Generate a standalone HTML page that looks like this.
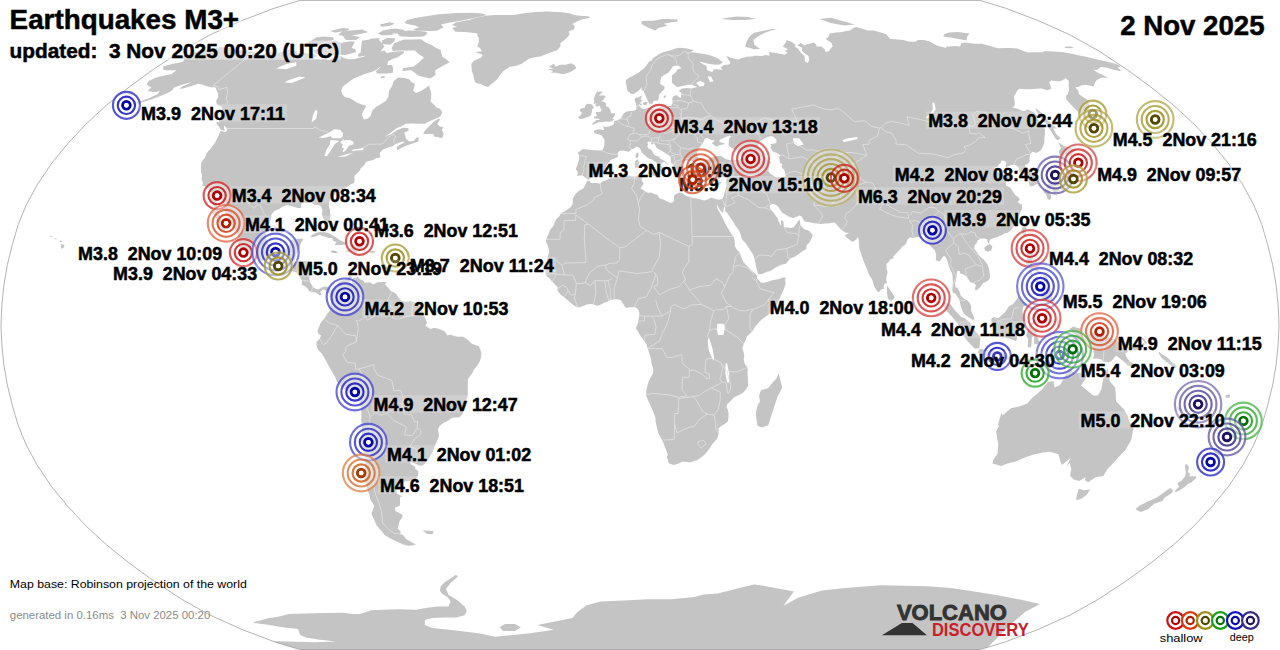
<!DOCTYPE html>
<html><head><meta charset="utf-8"><style>
html,body{margin:0;padding:0;background:#fff;}
body{width:1280px;height:650px;overflow:hidden;}
svg{display:block;}
svg text{font-family:"Liberation Sans",sans-serif;}
</style></head><body>
<svg width="1280" height="650" viewBox="0 0 1280 650">
<defs><clipPath id="rb"><path d="M980.1,0.4 992.9,4.3 1005.6,8.2 1021.3,14.2 1037.0,20.1 1053.6,27.5 1070.2,35.0 1084.7,43.1 1099.2,51.2 1112.3,59.9 1125.4,68.5 1137.9,77.5 1150.3,86.6 1161.9,95.9 1173.6,105.3 1184.1,114.9 1194.6,124.6 1203.6,134.4 1212.7,144.2 1220.8,154.1 1228.9,164.1 1235.6,174.1 1242.4,184.1 1247.9,194.2 1253.4,204.3 1257.6,214.3 1261.7,224.4 1264.7,234.5 1267.6,244.5 1270.1,254.6 1272.6,264.6 1274.3,274.7 1276.1,284.8 1277.1,294.8 1278.1,304.9 1278.6,314.9 1279.0,325.0 1278.6,335.1 1278.1,345.1 1277.1,355.2 1276.1,365.2 1274.3,375.3 1272.6,385.4 1270.1,395.4 1267.6,405.5 1264.7,415.5 1261.7,425.6 1257.6,435.7 1253.4,445.7 1247.9,455.8 1242.4,465.9 1235.6,475.9 1228.9,485.9 1220.8,495.9 1212.7,505.8 1203.6,515.6 1194.6,525.4 1184.1,535.1 1173.6,544.7 1161.9,554.1 1150.3,563.4 1137.9,572.5 1125.4,581.5 1112.3,590.1 1099.2,598.8 1084.7,606.9 1070.2,615.0 1053.6,622.5 1037.0,629.9 1021.3,635.8 1005.6,641.8 992.9,645.7 980.1,649.5 299.9,649.5 287.1,645.7 274.4,641.8 258.7,635.8 243.0,629.9 226.4,622.5 209.8,615.0 195.3,606.9 180.8,598.8 167.7,590.1 154.6,581.5 142.1,572.5 129.7,563.4 118.1,554.1 106.4,544.7 95.9,535.1 85.4,525.4 76.4,515.6 67.3,505.8 59.2,495.9 51.1,485.9 44.4,475.9 37.6,465.9 32.1,455.8 26.6,445.7 22.4,435.7 18.3,425.6 15.3,415.5 12.4,405.5 9.9,395.4 7.4,385.4 5.7,375.3 3.9,365.2 2.9,355.2 1.9,345.1 1.4,335.1 1.0,325.0 1.4,314.9 1.9,304.9 2.9,294.8 3.9,284.8 5.7,274.7 7.4,264.6 9.9,254.6 12.4,244.5 15.3,234.5 18.3,224.4 22.4,214.3 26.6,204.3 32.1,194.2 37.6,184.1 44.4,174.1 51.1,164.1 59.2,154.1 67.3,144.2 76.4,134.4 85.4,124.6 95.9,114.9 106.4,105.3 118.1,95.9 129.7,86.6 142.1,77.5 154.6,68.5 167.7,59.9 180.8,51.2 195.3,43.1 209.8,35.0 226.4,27.5 243.0,20.1 258.7,14.2 274.4,8.2 287.1,4.3 299.9,0.4Z"/></clipPath></defs>
<rect width="1280" height="650" fill="#fff"/>
<g clip-path="url(#rb)">
<path d="M226.2,47.7 230.2,48.3 233.1,49.6 237.7,49.9 241.8,50.6 245.9,51.2 251.0,51.2 254.3,52.6 257.7,54.0 261.6,55.0 270.1,52.3 273.1,53.0 278.2,53.0 284.1,51.2 290.2,49.6 292.3,51.9 296.9,51.2 297.1,53.3 304.3,52.6 308.3,53.7 314.3,54.0 317.3,56.1 312.9,57.8 314.4,58.8 320.6,59.2 326.2,58.8 328.7,60.2 335.8,55.7 340.6,56.1 343.8,58.1 348.1,59.2 353.3,59.2 358.2,58.1 364.4,56.4 369.4,52.6 368.7,50.6 373.7,46.4 377.0,45.4 376.9,48.6 375.4,53.3 378.1,54.7 378.6,57.1 383.3,54.7 388.9,52.6 396.1,51.6 404.0,51.2 403.7,53.3 397.3,57.5 391.5,59.5 385.6,63.0 381.7,65.7 376.0,70.0 371.6,72.1 364.5,73.9 358.7,76.5 353.7,78.6 347.5,83.0 342.9,86.6 341.1,91.1 342.7,94.8 344.9,97.1 349.9,98.2 353.0,100.1 357.2,102.7 361.5,104.2 366.3,106.1 362.5,112.2 362.1,115.7 363.9,119.6 367.4,118.8 370.7,116.1 371.9,111.1 375.9,106.9 381.5,103.8 386.2,100.4 388.6,95.9 388.9,91.1 392.1,85.9 393.6,81.2 398.0,77.5 404.7,77.9 409.3,79.4 411.6,82.2 415.0,83.7 414.2,87.3 413.2,90.7 416.0,93.0 421.0,91.1 425.7,88.1 429.1,85.5 429.8,88.5 431.2,92.6 431.2,97.1 430.5,101.6 433.6,104.2 436.1,107.2 440.0,108.8 442.2,112.2 440.5,116.5 435.3,118.8 430.5,120.7 424.7,123.8 418.5,123.8 411.0,123.4 405.6,123.8 401.1,126.5 396.7,128.1 390.8,132.8 384.6,137.1 386.2,136.3 391.2,134.0 397.5,130.1 403.1,127.7 408.2,128.1 408.8,130.4 404.2,132.8 405.3,135.6 406.0,138.7 409.4,141.4 413.7,141.1 415.9,138.3 418.6,137.1 418.3,141.4 412.8,143.4 406.7,145.4 401.9,147.4 397.4,150.2 396.5,147.4 399.5,145.0 404.5,142.6 403.1,141.4 398.3,143.0 394.9,144.6 392.7,146.2 387.4,147.8 383.0,149.4 379.7,152.9 379.8,155.3 380.7,157.3 378.5,158.1 376.5,158.1 373.2,160.1 369.0,160.9 365.9,162.1 364.1,165.3 361.0,168.1 359.4,170.9 357.0,173.3 354.4,176.1 354.5,178.9 354.3,182.9 351.2,184.1 348.4,185.8 344.3,188.6 341.1,189.4 338.1,191.8 333.8,195.0 330.9,198.2 329.1,202.3 328.9,205.9 330.0,210.3 330.1,213.1 330.6,217.1 329.5,220.8 327.9,223.6 325.5,223.6 324.0,220.8 323.2,218.0 321.9,214.3 322.5,210.3 320.9,206.3 318.2,204.7 314.7,205.1 311.6,202.7 308.1,203.1 304.8,202.7 301.1,203.5 301.1,207.9 297.7,207.9 294.5,207.1 291.0,205.9 287.1,205.1 282.6,206.7 279.3,209.1 274.3,211.1 271.4,214.7 271.2,218.4 270.0,222.0 268.0,226.4 266.9,230.4 265.8,234.9 266.1,237.3 266.8,241.3 268.9,244.9 269.6,247.7 272.4,250.1 274.9,252.2 279.9,251.0 283.6,250.1 286.2,248.9 289.5,245.3 290.4,241.3 293.2,239.3 297.4,238.9 301.0,238.5 303.3,239.3 301.5,242.1 299.8,246.5 298.1,251.0 296.3,254.2 295.3,258.6 293.9,261.8 296.0,261.4 301.3,261.4 304.8,261.0 309.4,261.4 312.4,264.6 311.5,267.9 309.9,273.5 309.4,278.7 309.9,281.9 312.0,285.6 313.7,287.6 315.4,288.8 317.5,289.6 321.1,288.0 323.7,286.4 327.2,286.8 329.3,287.6 330.9,290.0 333.0,290.4 335.3,287.6 337.1,286.8 338.0,283.1 340.7,280.7 342.5,280.3 345.4,279.5 348.0,277.5 351.3,275.1 351.8,278.3 349.8,280.7 351.6,286.8 351.9,281.5 353.3,277.5 356.7,278.3 357.3,275.9 359.5,278.7 363.6,281.1 364.5,282.7 369.9,282.3 373.2,284.4 377.6,282.3 382.2,281.9 386.5,281.9 384.9,284.4 387.3,286.8 390.6,290.8 395.8,293.6 398.5,297.6 401.9,300.9 406.1,301.7 411.5,301.3 415.0,302.5 419.1,305.3 421.6,308.1 422.9,312.9 425.3,318.6 427.0,323.0 425.2,325.8 430.6,329.0 434.1,327.8 439.5,329.0 444.8,331.4 447.4,335.5 450.2,334.7 457.3,336.7 463.4,336.7 468.0,339.9 471.6,343.5 475.2,345.1 478.7,345.9 480.2,349.1 481.4,353.6 481.1,357.2 479.8,361.2 477.5,365.2 474.1,369.3 472.2,373.3 469.2,377.3 467.9,379.3 467.8,385.4 467.8,395.4 466.3,399.5 465.6,404.7 463.8,408.7 462.8,413.5 459.7,417.2 455.5,417.6 451.8,418.0 447.9,420.8 442.9,423.2 439.1,426.8 438.1,429.6 439.0,436.1 437.5,440.1 434.6,446.5 432.6,451.8 429.3,457.8 426.7,461.8 422.7,465.5 419.0,465.5 415.3,463.4 409.9,461.8 410.8,464.2 415.3,466.7 415.2,469.1 418.1,471.1 418.4,473.9 417.1,477.9 412.8,480.3 406.5,481.5 403.3,481.5 403.2,483.9 404.2,488.3 399.2,489.9 396.0,489.9 397.5,494.3 402.7,496.3 400.0,497.1 400.0,501.8 399.8,505.8 394.8,507.8 395.5,510.9 402.2,514.4 402.5,516.8 399.4,521.5 398.6,525.8 397.5,528.5 400.8,531.6 400.1,533.9 403.0,535.1 406.1,538.9 412.2,542.4 416.0,544.3 412.2,545.4 407.9,545.8 402.7,544.3 396.9,541.6 391.1,538.9 384.6,535.1 381.7,531.2 376.6,525.4 374.0,519.6 371.4,513.7 372.9,509.7 374.3,505.8 370.5,499.8 369.2,493.9 367.0,489.1 366.5,483.9 363.4,475.9 364.9,472.3 365.3,467.1 365.1,459.8 363.9,453.8 363.1,447.7 361.3,440.9 361.9,434.9 362.0,427.6 361.2,419.6 361.5,411.5 360.4,405.5 359.0,399.5 355.5,396.2 350.9,392.6 345.2,389.4 340.7,386.6 336.7,381.3 335.3,377.3 332.5,372.5 328.3,365.2 325.2,359.2 322.1,354.0 318.4,350.0 316.8,347.1 316.3,342.3 319.7,338.7 321.1,335.5 318.6,333.9 317.4,331.0 319.1,327.0 320.2,323.8 322.0,321.0 324.9,317.8 327.1,314.1 329.7,310.9 330.1,307.7 330.7,301.7 330.2,297.6 328.9,294.8 327.9,292.4 325.9,290.4 323.2,289.2 320.2,292.0 321.5,294.8 320.0,295.6 318.0,294.0 315.6,292.4 311.7,292.0 309.3,291.2 307.6,288.4 305.3,286.4 303.6,285.6 301.5,284.4 302.1,281.5 301.3,279.1 298.8,275.5 296.6,272.7 294.9,271.9 291.5,271.1 288.1,269.9 282.9,268.7 280.3,266.2 276.7,261.4 273.4,259.8 269.7,261.0 264.4,261.4 259.5,259.4 254.9,257.4 251.3,255.4 248.2,253.0 243.2,251.4 240.3,247.7 237.2,242.9 238.7,240.5 238.4,236.5 236.6,231.6 233.6,227.2 231.4,224.4 228.8,222.4 228.1,216.3 225.6,212.7 223.8,208.3 223.1,202.7 221.1,199.0 217.8,197.0 216.9,199.4 216.5,205.1 218.4,210.3 219.7,214.3 221.0,219.6 222.3,223.6 223.8,227.6 225.8,231.6 223.9,232.4 221.4,227.6 218.1,225.2 218.9,220.8 215.5,217.1 212.1,213.1 215.0,210.3 214.1,206.3 211.7,203.1 211.1,200.2 210.6,196.2 210.9,192.2 209.3,189.4 208.4,188.2 205.7,186.6 202.3,185.8 202.9,182.9 201.4,178.5 202.0,176.5 201.7,173.7 200.9,172.1 201.0,166.5 201.3,162.5 204.8,157.7 206.8,152.9 210.9,148.2 215.3,142.2 217.9,137.1 220.7,130.8 224.2,132.0 226.7,131.6 227.3,128.9 226.5,127.7 223.5,125.3 221.9,123.4 218.9,121.5 220.0,118.4 221.7,114.6 221.3,111.5 221.9,107.6 219.9,106.1 216.9,104.6 216.1,100.8 218.4,97.1 217.9,93.3 216.6,90.3 215.4,87.3 211.1,87.3 206.7,86.2 202.7,84.8 198.4,83.7 191.5,85.9 182.9,88.5 178.8,88.8 183.3,85.9 191.7,82.2 188.0,83.0 181.1,85.1 173.8,87.7 172.2,90.3 167.8,93.0 159.7,96.3 151.9,99.3 142.5,102.3 134.9,103.8 126.0,106.5 123.4,106.1 131.0,104.6 138.6,101.9 148.4,98.6 157.9,94.1 159.9,91.1 154.3,92.2 147.6,91.1 151.5,87.3 149.5,86.6 146.8,84.4 148.3,81.2 156.0,77.5 164.4,75.4 171.7,73.9 176.5,70.3 168.3,70.3 163.4,70.0 163.1,66.4 172.0,64.0 177.5,63.0 183.5,61.6 183.9,59.5 180.2,57.1 184.9,55.0 192.3,53.0 201.1,50.6 210.7,48.6 221.5,47.0ZM452.0,24.9 455.6,22.5 464.1,20.7 469.3,19.9 473.1,18.5 478.8,17.3 485.7,15.8 495.0,15.1 501.6,14.9 514.4,14.9 522.0,13.4 535.6,12.0 546.4,11.5 562.6,12.3 570.4,13.4 573.9,15.1 580.0,15.8 588.4,16.3 590.1,17.7 581.8,19.4 577.4,21.3 572.4,24.0 574.9,26.4 573.8,29.6 568.5,31.4 569.8,34.1 567.7,36.9 564.4,39.9 560.5,43.1 560.4,46.4 557.5,49.9 548.8,53.3 540.1,56.4 533.3,57.5 528.9,58.8 521.8,63.7 515.5,66.1 509.9,66.8 503.4,71.0 499.6,75.7 496.6,80.1 490.5,84.8 488.2,87.0 484.4,85.9 480.9,84.1 475.8,83.0 474.3,80.1 473.5,75.7 472.0,71.4 471.5,66.8 471.3,63.7 474.3,60.6 481.2,57.5 482.6,54.7 475.1,51.9 481.8,51.2 480.1,48.0 477.3,46.4 478.8,42.1 478.9,38.2 477.1,35.6 477.6,33.5 470.1,32.6 463.5,32.0 455.6,31.7 452.1,28.1 457.1,26.7 452.0,24.9ZM310.1,237.0 312.7,234.5 316.4,232.8 320.4,231.6 324.5,232.0 327.9,232.8 331.8,234.9 335.9,237.3 339.1,239.7 342.3,241.3 346.6,243.3 346.1,244.5 341.8,244.9 336.3,244.9 334.6,244.5 336.6,242.1 333.3,240.9 332.0,238.1 328.5,238.1 324.6,236.5 321.2,235.7 320.0,234.5 317.0,236.1 313.4,236.9 310.1,237.0ZM344.8,251.2 348.6,250.1 350.9,248.1 349.1,245.7 352.3,244.9 356.8,245.1 360.9,245.9 363.1,247.7 366.0,250.1 364.8,251.8 361.0,251.0 357.8,251.8 355.1,254.2 353.3,251.8 349.1,251.8 344.8,251.2ZM331.0,250.7 334.9,250.5 338.1,252.6 336.0,253.2 332.8,253.0 330.9,251.8ZM370.0,251.0 375.7,251.2 375.2,252.6 369.9,252.8ZM423.1,134.0 425.0,130.4 428.4,126.9 433.4,121.9 438.8,118.4 440.3,119.2 437.3,123.8 439.7,126.5 443.5,127.3 441.9,130.1 442.9,132.0 443.5,134.0 442.7,137.5 439.7,137.9 438.7,137.1 434.4,136.7 433.2,134.0 423.1,134.0ZM224.4,130.8 220.9,130.1 219.4,127.3 217.0,124.6 216.2,121.9 219.2,122.2 223.5,123.4 223.9,125.7 224.4,130.8ZM588.0,180.1 585.8,178.1 582.3,175.3 578.3,175.7 577.0,176.1 577.9,172.1 575.8,169.3 577.8,164.1 579.2,159.3 578.9,155.3 577.9,152.5 580.9,150.6 582.7,149.0 589.3,149.8 595.7,150.2 602.1,150.6 603.5,148.2 604.3,145.8 604.6,140.3 601.7,135.6 599.3,134.4 594.7,133.2 594.1,132.4 593.9,130.8 596.5,129.7 599.6,129.3 602.7,130.1 604.0,129.7 603.3,125.7 605.4,126.9 609.4,126.5 613.8,124.2 614.3,121.1 616.8,120.5 618.6,119.6 620.5,118.8 621.8,116.9 623.7,113.4 624.3,113.0 626.5,111.5 631.0,111.1 634.0,110.7 636.1,109.5 636.7,107.2 635.9,103.4 634.4,99.7 635.9,97.4 638.5,97.4 641.7,95.2 641.5,97.1 640.6,99.7 642.6,100.1 639.7,103.4 638.8,105.3 639.7,106.1 640.6,107.6 643.0,109.2 646.3,108.4 650.4,107.2 652.9,109.5 657.9,108.0 662.3,106.1 665.9,107.6 669.4,105.7 671.1,105.7 672.7,102.7 672.1,98.6 673.4,96.3 676.5,95.0 679.3,97.4 680.8,97.8 681.5,93.0 678.7,91.1 681.9,88.5 686.9,88.1 691.3,88.5 697.3,87.0 692.2,84.8 688.0,84.8 682.4,85.9 676.9,87.3 674.7,85.1 672.0,83.0 672.0,79.4 671.9,75.4 675.5,72.5 677.8,69.2 681.5,68.5 678.8,65.7 674.2,65.7 672.7,66.4 670.4,70.3 668.1,72.8 664.7,74.7 661.5,76.8 660.4,80.8 660.3,84.1 662.6,85.5 664.7,86.6 664.3,89.2 661.8,91.5 659.1,94.8 658.7,98.9 657.6,100.8 653.8,100.8 652.4,103.8 648.9,103.8 648.5,101.9 647.6,100.8 645.8,95.9 645.5,95.2 643.4,90.7 641.7,90.3 641.4,87.0 639.4,90.3 634.2,93.7 631.3,94.1 627.4,90.7 626.4,85.1 625.7,82.2 626.1,80.1 629.5,77.5 633.1,75.7 635.9,73.9 638.6,72.8 641.4,70.3 644.0,68.5 646.7,65.1 649.2,61.6 651.6,60.6 653.0,58.1 655.6,56.4 659.3,54.0 663.0,52.3 666.8,51.2 670.5,50.3 675.4,48.6 679.7,47.7 685.4,48.3 689.3,49.0 693.6,49.9 691.1,51.9 699.1,53.3 704.4,54.0 708.4,54.7 714.0,56.8 718.5,58.8 722.8,62.3 719.9,64.4 715.9,64.7 709.1,64.0 705.7,63.0 702.1,62.3 699.0,61.3 702.5,64.0 706.3,65.7 707.2,70.3 712.2,72.1 713.7,70.3 713.0,69.2 717.0,69.2 722.6,70.0 720.6,67.5 724.0,65.1 729.2,64.4 730.4,62.3 728.7,59.9 726.3,56.1 728.9,57.1 734.1,58.8 738.3,59.5 741.8,58.1 746.5,56.8 751.6,56.4 755.2,55.7 761.8,56.1 765.3,55.0 769.4,55.7 769.1,51.9 776.0,53.0 784.5,54.7 787.5,53.0 785.0,50.6 788.3,49.6 782.7,46.4 785.6,42.8 786.5,40.2 790.9,41.5 795.4,44.7 794.9,46.7 797.8,48.6 801.1,53.0 804.6,56.1 804.9,61.6 807.8,63.0 809.2,59.9 808.5,56.1 804.2,53.0 801.8,50.6 802.5,48.0 797.6,45.4 800.6,43.1 804.5,45.4 807.4,44.1 810.7,43.4 813.7,42.5 816.5,44.7 816.4,46.4 821.4,46.4 825.0,49.6 825.4,51.9 828.8,51.2 830.7,48.6 832.7,46.4 831.5,43.1 825.8,38.9 828.2,37.3 829.7,33.5 835.9,32.6 842.4,32.0 846.1,31.1 850.1,30.5 852.4,28.4 856.0,27.0 861.6,28.4 867.6,30.5 873.5,30.5 880.8,32.6 886.6,34.4 890.1,38.9 895.3,39.2 903.3,39.9 908.7,41.5 915.2,41.8 918.0,39.9 924.1,39.9 929.6,41.5 936.7,45.4 946.0,48.0 946.6,46.4 950.3,46.4 954.9,46.0 960.3,46.4 961.2,43.1 965.2,42.5 974.4,43.8 981.8,43.8 989.9,46.0 998.1,48.3 1005.2,48.0 1010.3,48.0 1017.5,48.6 1023.9,51.2 1028.2,52.6 1034.2,52.3 1041.9,52.3 1044.3,51.2 1048.2,51.2 1053.7,51.6 1061.9,51.9 1072.0,53.7 1079.6,55.4 1087.3,57.1 1099.2,59.9 1108.9,61.9 1115.4,63.7 1118.9,65.1 1120.1,66.8 1117.7,67.8 1121.2,70.3 1119.4,71.0 1111.6,69.2 1106.4,67.5 1100.5,67.1 1099.0,68.5 1096.3,70.0 1093.1,69.6 1096.4,72.1 1102.8,75.0 1107.9,77.9 1101.9,77.5 1096.8,80.1 1094.8,83.0 1093.6,86.6 1085.8,84.8 1081.0,85.5 1078.4,87.0 1075.4,87.3 1078.5,91.1 1078.8,94.1 1084.2,97.8 1089.4,100.8 1087.4,102.3 1090.0,105.3 1088.6,108.0 1089.9,111.1 1087.4,113.0 1089.1,116.9 1088.9,121.1 1083.6,116.9 1077.3,111.1 1071.6,105.3 1066.5,99.7 1065.7,95.9 1067.6,94.5 1069.1,90.3 1068.7,85.9 1068.8,81.2 1065.8,77.9 1063.9,79.4 1060.4,81.2 1057.6,81.2 1051.2,80.4 1049.1,82.2 1051.5,88.5 1047.7,90.3 1041.0,88.5 1036.2,88.8 1030.9,89.2 1025.2,89.2 1019.7,88.8 1016.9,91.1 1016.0,93.3 1014.1,95.9 1014.4,98.9 1014.8,103.4 1014.4,106.5 1011.7,106.9 1018.8,109.2 1022.4,111.1 1025.4,111.1 1026.9,109.2 1033.8,112.2 1036.9,114.9 1037.5,118.8 1042.1,124.6 1044.9,129.3 1044.9,134.4 1044.3,138.3 1044.4,142.2 1043.0,146.2 1041.1,150.2 1036.2,152.9 1032.3,151.8 1030.8,153.7 1029.9,154.9 1029.4,159.3 1029.9,160.9 1027.7,164.1 1024.8,164.9 1025.7,166.9 1029.5,169.7 1033.8,174.1 1036.9,178.1 1038.2,180.9 1038.1,183.7 1036.0,184.5 1033.8,185.8 1030.4,186.6 1029.5,185.0 1028.8,181.7 1027.3,178.1 1027.2,175.7 1025.3,173.7 1021.9,173.3 1019.7,172.1 1018.5,170.1 1019.1,168.5 1017.1,166.1 1014.1,164.5 1011.7,164.9 1008.3,166.1 1005.8,168.9 1005.6,166.1 1006.1,164.1 1006.1,162.1 1003.0,160.5 1001.4,160.5 1000.9,162.9 998.7,164.5 997.3,167.3 994.6,167.3 994.5,169.3 997.1,171.7 999.9,173.7 1001.2,175.3 1003.7,174.9 1005.8,172.9 1009.0,174.1 1012.8,174.5 1013.0,176.5 1008.8,177.7 1007.5,180.1 1005.8,183.3 1005.8,185.4 1010.2,187.4 1013.5,192.2 1015.2,195.0 1018.7,197.4 1019.8,199.8 1017.5,201.9 1019.7,203.5 1021.8,204.7 1022.2,207.5 1021.5,210.3 1020.3,212.3 1019.3,215.1 1018.2,217.5 1017.6,220.4 1016.9,223.2 1015.3,225.6 1013.7,226.4 1011.8,229.2 1009.7,231.2 1007.6,232.8 1004.3,233.6 1001.8,235.3 999.4,235.7 997.9,236.9 994.5,237.7 991.2,238.9 989.7,240.1 989.2,243.3 988.1,242.9 987.1,239.3 984.6,238.5 980.7,238.5 977.6,240.5 976.6,243.3 974.8,244.9 974.2,248.5 976.3,251.4 978.2,254.6 981.0,257.4 983.7,259.4 985.9,262.6 987.6,264.6 989.1,269.5 989.9,274.7 989.9,278.3 988.4,280.3 985.4,282.3 983.0,283.1 981.7,285.2 980.1,287.2 977.0,290.0 975.3,290.4 975.1,287.6 976.1,285.2 973.8,283.1 970.2,282.3 968.5,279.5 966.5,276.7 965.3,275.5 962.4,273.9 960.2,273.5 960.0,271.1 958.6,270.7 956.9,271.1 956.8,274.7 955.9,280.7 955.1,283.5 955.7,287.6 957.8,288.0 959.4,291.6 960.7,295.6 962.2,297.2 965.1,299.2 967.0,300.0 970.0,303.3 971.2,306.9 971.2,310.9 972.4,313.7 974.2,317.4 974.6,319.4 972.2,319.8 971.1,319.0 968.2,317.0 963.9,313.7 962.7,310.9 961.3,308.1 960.5,304.9 960.0,302.5 959.1,299.2 957.6,296.8 955.3,293.6 952.8,292.8 952.3,289.6 952.7,285.2 952.8,281.5 952.8,277.5 952.1,273.5 950.5,270.3 948.6,265.4 947.4,260.6 945.9,257.4 944.0,255.8 942.4,257.4 939.8,261.4 937.6,261.0 935.7,259.8 936.2,255.4 935.0,250.5 932.2,247.7 929.8,245.3 928.0,242.1 925.9,239.3 924.3,235.3 922.8,234.0 919.8,234.9 918.6,236.9 916.2,236.9 913.9,238.1 911.9,238.1 910.4,237.3 907.8,238.9 906.5,242.5 905.0,244.9 902.4,246.5 900.3,249.3 897.1,252.6 893.3,256.6 893.5,258.2 890.1,259.4 888.9,261.8 886.6,263.8 886.6,268.7 887.6,272.3 886.5,276.7 886.3,279.5 886.9,283.5 884.8,283.5 883.5,286.8 884.0,288.8 881.2,289.2 878.8,292.4 876.6,290.4 874.4,286.8 873.1,282.7 872.2,279.5 869.8,275.9 868.3,273.1 866.9,268.7 864.9,264.6 863.5,260.6 861.7,255.8 860.3,251.4 859.3,248.5 858.9,243.7 858.8,239.3 857.5,236.9 856.4,239.3 854.1,240.9 852.4,241.7 850.6,240.5 847.9,238.5 846.0,236.9 844.8,234.9 846.8,234.5 849.1,232.8 846.3,232.8 843.1,231.2 841.9,230.0 840.1,228.8 838.5,226.4 837.0,225.2 835.7,223.2 833.9,222.4 829.1,223.2 824.7,223.6 820.6,224.0 817.8,223.6 814.6,223.2 810.8,222.4 807.6,222.0 804.8,221.6 802.8,218.8 801.5,216.3 799.0,215.5 796.4,217.1 793.1,218.0 789.5,217.1 785.9,214.7 782.2,212.7 779.5,208.7 777.5,205.9 774.6,204.3 772.2,203.9 771.2,204.3 769.6,205.9 769.9,208.3 771.8,210.7 773.7,212.7 776.1,216.3 778.0,218.8 778.6,221.2 780.2,224.4 781.4,226.0 780.7,222.4 781.2,220.0 783.4,221.2 783.7,224.4 783.9,227.2 787.0,227.6 790.5,228.0 793.6,227.2 795.5,224.8 797.3,222.4 798.5,220.4 799.4,219.2 800.0,222.0 800.3,224.8 802.2,227.2 804.4,229.2 806.9,230.0 809.1,230.8 811.8,234.0 812.9,234.9 811.4,238.9 809.0,242.9 806.7,244.9 806.3,248.9 802.9,251.0 800.2,253.0 798.2,254.6 794.2,257.0 790.7,258.2 788.1,261.0 785.8,263.8 780.6,265.0 777.5,266.6 773.7,268.7 770.3,271.1 766.1,271.9 763.3,273.5 759.8,274.3 758.0,274.3 757.2,270.7 756.0,266.6 755.6,263.4 754.7,260.6 754.2,257.4 753.1,254.6 750.4,250.5 748.2,247.3 746.0,243.7 743.0,240.5 741.5,238.1 740.6,234.5 739.1,230.4 736.9,227.6 735.0,225.2 733.9,222.8 731.6,219.6 729.3,216.3 727.1,212.7 725.3,211.5 725.0,206.3 723.7,208.3 723.5,211.1 723.0,213.1 720.8,211.1 718.9,208.3 717.0,204.7 716.8,205.9 717.6,209.1 719.5,212.3 721.7,215.9 723.3,219.6 725.2,223.2 727.1,226.8 728.6,229.2 730.9,233.2 733.4,236.5 734.7,240.5 734.9,246.1 736.8,249.7 739.7,252.6 741.7,258.2 743.6,262.2 746.1,265.0 749.0,267.9 751.6,270.7 755.2,273.5 757.4,276.3 756.8,278.3 758.6,279.9 761.1,282.7 763.6,282.7 767.1,281.9 772.4,280.3 776.2,279.5 779.4,279.1 782.8,277.5 785.7,277.5 785.1,281.5 785.9,283.1 784.6,286.8 783.3,290.8 780.9,295.6 778.5,300.9 776.1,305.7 773.0,309.7 769.5,313.7 765.2,317.0 761.4,319.8 757.8,323.4 754.6,327.4 752.1,331.4 749.6,333.9 747.1,336.3 745.3,341.1 743.5,344.3 742.4,348.3 743.7,352.4 744.4,356.4 743.6,359.2 745.0,364.4 747.0,366.5 747.7,369.3 747.5,373.3 747.8,377.3 748.0,381.3 748.2,385.4 746.0,389.4 742.7,393.0 738.0,395.4 734.5,397.0 730.8,400.7 727.2,404.3 726.4,406.7 727.7,409.5 728.6,413.5 728.4,418.0 727.9,421.6 724.7,424.0 721.2,426.0 718.3,428.4 718.8,431.6 718.2,435.7 716.7,439.3 714.9,441.3 712.3,444.1 710.1,447.7 707.8,451.0 704.2,455.0 700.7,457.8 697.2,460.2 693.8,461.0 692.4,461.8 689.7,462.6 685.7,461.7 682.0,461.8 678.6,463.4 673.5,465.0 671.2,464.2 669.5,463.4 668.5,462.6 668.2,461.4 667.6,458.6 666.6,457.4 667.7,454.6 666.5,451.0 664.9,446.9 663.6,443.3 661.9,440.1 659.6,435.7 657.9,432.0 656.9,427.6 655.6,421.6 655.3,417.2 653.9,413.5 652.2,409.5 650.5,405.5 648.4,401.1 646.3,395.8 646.3,391.4 646.7,388.6 647.7,384.6 648.8,380.9 651.6,375.7 653.0,373.3 653.4,369.3 652.0,365.2 651.3,362.0 651.3,359.2 649.9,355.2 648.1,349.5 647.4,347.5 646.4,344.3 644.3,341.1 641.8,337.5 639.6,334.7 637.5,330.6 635.7,328.2 637.2,325.4 638.2,322.6 638.6,319.0 639.3,315.7 639.3,312.9 638.2,309.3 636.5,308.1 634.7,306.9 632.2,307.3 629.4,307.3 627.6,307.7 625.8,307.7 624.0,305.3 622.3,302.5 620.5,300.0 617.0,299.2 613.4,299.6 610.2,300.0 607.4,301.7 604.6,302.5 601.0,304.5 597.5,305.7 593.9,304.5 590.4,304.1 586.8,304.5 583.3,306.1 579.7,307.3 577.6,307.3 574.4,305.7 570.9,302.9 567.4,300.0 564.2,297.2 561.4,295.2 559.0,292.8 557.6,290.4 557.6,287.6 555.9,285.6 553.5,282.7 551.7,281.1 550.0,278.7 547.3,276.7 545.9,275.1 545.6,271.9 545.3,269.1 544.3,267.0 543.3,265.8 545.1,264.2 546.6,261.4 547.1,258.6 548.6,254.6 549.1,250.5 548.2,247.3 547.6,245.3 545.8,241.3 546.5,238.5 548.4,234.5 550.0,230.0 552.9,226.4 554.4,223.2 556.0,219.6 559.3,216.3 561.1,213.1 564.7,211.5 568.2,209.1 571.0,206.7 572.9,203.5 572.7,201.5 572.9,198.6 574.8,195.0 577.7,191.8 580.8,189.8 583.6,188.2 585.4,184.5 587.0,180.9 589.0,180.5 591.5,183.3 594.5,182.9 596.9,182.9 599.9,183.7 602.6,181.3 604.7,180.9 608.4,178.9 611.8,177.7 616.8,176.9 621.8,176.5 625.1,177.3 628.4,175.7 632.7,176.5 636.0,176.5 639.3,174.9 641.0,176.9 643.6,175.7 641.7,178.9 642.0,180.9 643.7,183.3 642.7,185.4 640.3,188.6 643.0,189.8 645.1,191.4 648.4,193.0 650.8,192.6 655.2,194.2 657.6,195.0 659.3,198.2 663.8,199.8 667.2,201.5 670.6,203.1 672.7,202.3 674.3,200.2 673.9,197.0 674.2,195.8 676.5,193.8 678.8,192.6 682.5,193.0 684.6,195.0 687.4,196.2 691.5,197.8 695.9,198.2 701.1,199.8 704.5,200.6 707.5,199.4 711.2,197.8 715.6,199.0 718.1,199.8 722.1,199.0 723.0,197.8 723.9,195.8 724.3,193.0 724.9,191.0 725.7,188.6 726.5,186.6 726.7,184.1 726.1,182.1 726.3,180.1 727.1,177.7 724.7,177.7 721.3,176.9 719.2,178.9 716.6,179.7 714.9,179.7 713.1,178.1 709.7,176.9 708.4,176.9 708.2,178.9 704.9,179.3 703.1,177.7 700.7,176.9 697.7,176.1 696.9,173.7 695.0,170.5 693.7,169.7 694.8,167.3 693.8,166.1 692.7,164.1 694.5,162.5 697.2,162.9 700.4,162.5 703.6,161.3 701.8,160.1 698.6,160.3 696.1,161.7 694.5,162.5 692.8,161.7 692.1,160.9 688.8,160.5 687.2,160.5 684.6,161.3 685.4,162.9 683.5,163.3 682.1,161.7 681.2,164.1 682.3,166.5 683.7,168.1 681.1,168.9 685.2,171.3 686.2,172.1 683.7,173.7 683.4,176.1 682.9,178.1 681.6,178.5 680.5,176.5 678.8,176.9 678.4,174.9 676.7,172.9 678.6,170.9 676.6,170.1 675.2,168.1 673.8,166.5 672.4,164.1 670.7,162.5 670.9,160.1 670.4,156.5 668.4,154.9 666.1,153.7 664.1,152.2 660.5,150.2 658.9,149.4 656.6,147.8 655.6,145.8 654.0,143.0 652.4,144.6 651.5,144.2 651.1,141.8 648.9,141.4 647.3,142.6 648.0,144.6 647.3,146.6 648.3,148.2 651.2,149.8 653.6,154.1 655.5,155.7 658.1,156.5 659.7,156.5 659.1,158.1 662.4,159.7 665.8,161.7 667.8,163.7 667.5,164.9 665.8,162.9 663.5,162.1 661.6,163.7 661.3,165.7 663.3,168.1 661.7,170.1 660.1,172.1 658.5,172.5 658.8,170.9 659.4,169.7 660.4,168.1 658.7,164.5 656.3,163.3 655.7,161.7 653.7,160.9 652.0,159.3 649.7,158.9 647.1,157.3 643.9,154.5 641.6,152.5 641.0,150.2 639.4,147.8 636.5,146.6 634.2,148.6 632.0,149.0 630.4,150.2 628.7,151.8 624.9,151.0 622.7,150.6 619.1,151.0 617.4,153.7 618.4,154.9 618.0,156.5 614.7,158.5 610.4,160.1 610.0,161.3 607.6,163.7 606.2,166.1 607.7,169.3 605.4,170.9 604.6,173.7 602.6,174.1 599.5,177.3 598.5,176.9 595.2,177.3 592.2,177.3 590.1,178.5 588.7,179.7ZM449.6,62.3 441.7,66.4 435.3,70.3 435.4,75.0 430.5,78.6 424.5,77.2 418.5,75.7 414.8,72.8 410.9,70.3 402.3,71.0 402.9,68.2 413.6,66.4 419.2,62.3 423.9,57.5 418.6,54.0 414.8,50.6 408.4,50.6 400.8,50.6 392.9,50.9 391.6,48.3 393.9,43.4 403.8,39.5 411.1,39.5 421.1,39.2 425.6,42.5 431.1,44.7 436.0,48.0 440.8,49.9 441.2,53.0 442.4,57.1 446.3,59.2 449.6,62.3ZM429.2,31.1 422.5,30.8 415.9,30.5 413.0,29.0 419.4,27.5 415.1,25.5 409.4,24.6 404.5,23.1 407.3,20.1 416.4,17.7 424.7,16.5 438.7,14.2 457.2,13.0 472.2,12.7 481.9,13.4 486.7,14.9 480.7,16.5 469.3,18.9 460.7,20.7 451.4,22.2 441.0,24.6 443.5,27.5 436.6,30.8 429.2,31.1ZM423.5,36.6 411.1,36.9 399.7,36.3 397.7,33.8 400.7,31.4 408.9,30.5 417.9,30.8 426.2,31.7 427.4,33.8 423.5,36.6ZM390.1,44.7 382.1,44.1 381.7,40.8 387.2,37.9 395.4,38.2 394.1,41.5 390.1,44.7ZM374.5,45.4 367.7,44.7 363.2,42.1 372.0,38.6 379.6,38.2 377.9,42.1 374.5,45.4ZM364.0,56.1 358.1,56.8 358.4,53.7 364.2,51.6 368.0,53.0ZM356.2,51.9 345.5,55.0 338.1,54.7 326.0,56.4 321.0,55.0 314.2,53.0 313.4,50.3 321.4,48.0 319.7,46.4 319.2,44.7 327.5,42.1 335.6,40.5 341.1,43.1 350.8,41.2 354.9,41.8 351.6,48.0 355.2,49.3 356.2,51.9ZM313.8,47.0 309.2,46.7 302.6,45.1 310.8,40.8 316.7,37.3 324.8,36.6 333.2,37.6 334.0,39.9 323.0,42.8 313.8,47.0ZM367.4,32.6 356.0,34.7 345.3,36.6 338.1,34.7 342.1,31.4 350.5,30.5 362.3,29.6 367.5,31.7 367.4,32.6ZM393.8,35.0 381.5,35.3 378.0,33.5 383.6,30.2 390.2,30.5 391.4,33.2 393.8,35.0ZM348.2,30.5 335.5,32.6 329.7,31.1 342.6,28.1 349.1,28.4ZM389.3,26.1 381.6,26.7 380.0,24.6 390.1,22.2 394.8,23.7ZM392.9,72.8 387.0,73.6 377.4,73.6 375.7,71.4 381.4,66.4 386.8,64.7 391.9,65.1 393.2,68.5 392.9,72.8ZM385.2,77.2 380.6,78.6 381.3,76.5 384.3,76.1ZM591.7,124.2 594.0,122.2 595.7,120.7 596.6,119.9 598.8,119.9 601.3,118.8 599.8,119.2 596.5,118.4 594.3,118.4 593.5,117.2 595.4,116.5 597.3,115.3 595.7,113.8 596.1,111.9 600.1,111.7 601.0,111.5 601.5,109.2 600.1,107.6 600.0,105.7 597.2,106.5 595.2,106.1 596.4,103.1 593.6,104.2 594.2,101.6 593.9,98.6 594.4,96.7 595.5,94.8 596.9,91.8 601.5,91.6 602.7,91.8 600.1,94.6 598.8,95.9 602.4,95.2 605.8,95.9 605.0,97.3 603.4,99.7 602.5,100.4 601.2,101.6 603.0,101.4 604.7,102.3 605.8,103.1 606.1,105.3 606.4,106.5 608.5,107.2 609.8,108.8 610.5,110.7 610.6,111.1 611.1,113.2 614.7,113.2 615.1,114.9 613.6,117.2 612.3,118.8 613.9,119.2 613.6,120.3 610.1,121.7 609.4,121.7 605.4,121.5 601.8,122.2 598.6,122.2 596.7,123.2 593.2,124.6 591.7,124.2ZM591.9,111.9 591.1,114.6 590.3,116.1 586.9,117.2 583.7,118.4 579.7,119.0 578.3,117.6 579.8,115.7 581.4,114.6 581.7,112.2 579.7,111.1 580.6,108.4 584.6,108.0 585.1,106.1 586.1,104.6 588.6,103.8 592.1,104.6 593.4,106.5 593.8,108.0 591.9,109.2 591.9,111.9ZM550.7,72.8 553.1,71.0 548.1,69.2 553.7,68.5 548.8,66.8 553.9,63.7 555.5,66.8 560.1,64.7 565.4,64.7 571.0,63.3 574.6,65.1 576.4,68.2 572.1,71.0 569.1,72.5 563.2,74.3 555.4,72.8 550.7,72.8ZM642.3,24.6 641.1,23.1 642.2,21.0 647.7,20.7 653.3,20.7 657.6,20.1 661.9,18.9 668.4,18.9 677.4,19.6 677.8,21.6 671.2,22.2 663.6,23.7 667.3,25.5 666.2,26.1 660.7,27.5 658.4,28.1 655.2,30.5 651.6,29.0 648.0,27.5 642.3,24.6ZM745.1,46.4 746.8,41.5 749.5,36.6 753.5,32.9 761.8,31.1 772.0,29.0 777.1,29.6 770.7,30.5 763.3,33.5 757.9,36.6 753.4,39.9 754.4,44.7 760.1,49.0 753.9,49.3 745.1,46.4ZM830.6,23.1 819.4,18.9 831.0,17.7 838.5,20.1 847.9,22.5 854.8,24.6 844.5,25.5 830.6,23.1ZM726.8,17.7 736.9,16.5 748.0,17.0 755.8,18.7 745.9,20.1 732.5,19.9 721.0,18.9ZM944.5,34.1 949.2,32.6 957.7,32.0 969.6,33.5 967.2,36.6 966.4,40.5 954.9,38.2 943.2,36.6ZM1064.7,48.0 1065.5,46.4 1070.5,46.4 1073.9,47.7 1070.0,48.3ZM1055.1,137.9 1052.0,132.4 1046.7,124.6 1039.6,116.9 1036.5,111.1 1035.5,108.0 1042.0,113.0 1045.7,118.8 1057.1,128.5 1053.1,128.5 1056.5,134.4 1060.7,138.3 1057.3,140.3ZM1062.0,158.5 1059.2,153.7 1058.9,151.0 1061.1,148.2 1058.3,142.2 1064.3,146.2 1071.7,147.8 1076.0,150.6 1073.0,152.5 1071.5,156.5 1068.2,155.3 1062.7,154.1 1065.0,156.9 1062.0,158.5ZM1066.6,158.5 1069.0,162.1 1072.9,166.1 1073.6,170.9 1073.5,174.1 1074.3,176.5 1075.1,180.1 1076.7,181.3 1074.5,184.5 1072.0,183.3 1071.7,185.8 1069.7,185.8 1065.6,185.8 1065.4,187.0 1064.0,190.2 1060.5,189.0 1059.8,185.4 1055.6,185.8 1052.7,187.0 1049.9,188.6 1046.4,188.2 1047.2,185.8 1049.2,182.5 1052.4,182.1 1055.3,181.3 1059.1,182.1 1060.2,180.9 1061.0,177.7 1061.3,174.1 1061.6,176.9 1065.1,175.3 1066.1,172.5 1066.3,168.1 1065.3,164.1 1063.7,161.3 1063.8,159.3 1066.6,158.5ZM1052.1,189.0 1054.4,187.0 1058.9,188.2 1058.6,191.0 1055.1,193.4 1053.0,192.2ZM1046.2,188.6 1049.8,191.0 1051.3,197.8 1049.9,200.2 1047.7,199.0 1046.0,194.2 1043.5,192.2 1043.1,190.2 1046.2,188.6ZM1024.8,223.2 1026.9,224.4 1026.2,230.4 1025.3,236.9 1022.4,234.0 1021.4,230.4 1023.4,224.4ZM984.2,247.7 989.3,244.1 992.4,246.1 991.3,250.5 987.9,251.8 985.0,250.5ZM1026.6,250.5 1032.2,250.5 1034.1,256.2 1031.7,261.0 1032.6,267.9 1036.9,268.7 1041.5,272.7 1039.9,274.3 1034.1,269.5 1029.2,269.5 1030.0,266.6 1026.6,265.0 1025.1,259.4 1027.2,259.4 1026.6,250.5ZM1036.5,296.8 1041.6,293.6 1044.0,292.0 1048.2,285.6 1052.3,294.8 1051.6,299.6 1049.3,302.5 1043.8,299.2 1039.9,294.8 1036.5,296.8ZM1042.8,274.7 1047.2,275.9 1048.8,280.7 1046.4,284.8 1043.5,281.1 1044.3,278.7ZM1035.0,277.5 1039.0,278.7 1037.3,282.7 1035.1,281.9ZM1038.6,281.1 1040.8,282.3 1040.2,288.4 1037.6,285.6ZM1041.6,279.9 1042.9,281.9 1040.8,286.8 1040.5,283.1ZM1028.3,270.7 1031.5,271.1 1032.9,274.3 1031.7,275.9 1029.7,274.3ZM1019.2,291.2 1026.7,279.1 1025.8,280.7 1021.8,287.2ZM991.3,319.0 993.4,317.0 998.4,318.2 1005.3,312.1 1008.7,306.5 1013.2,304.1 1015.5,300.9 1018.8,296.8 1021.6,300.9 1027.4,303.7 1022.9,306.9 1022.4,312.9 1026.5,321.0 1021.6,323.0 1021.9,329.0 1017.9,331.0 1017.0,339.1 1015.9,341.1 1010.6,339.1 1005.3,337.5 1000.0,337.1 995.4,336.7 994.9,331.0 991.5,325.0 991.3,319.0ZM942.3,302.5 950.2,304.1 954.5,309.7 961.1,317.0 964.7,318.2 970.1,323.0 972.9,327.0 975.3,331.0 980.5,337.1 979.4,348.3 974.8,348.7 967.3,341.1 962.8,335.1 959.5,327.0 955.9,321.0 950.4,314.9 945.0,308.9 942.3,302.5ZM977.1,352.4 980.1,348.7 987.1,350.4 995.9,351.2 999.5,351.6 1003.6,352.8 1009.4,356.4 1009.9,360.0 1000.8,358.4 993.8,357.6 986.8,356.4 981.2,354.8 977.1,352.4ZM1009.7,357.6 1013.9,358.8 1012.0,360.4 1009.6,358.8ZM1015.0,358.4 1018.5,358.4 1022.1,358.0 1025.5,359.2 1023.7,360.8 1018.3,361.2 1014.8,360.8ZM1028.4,358.8 1034.4,358.4 1039.8,358.0 1039.0,359.6 1030.7,360.8 1028.3,360.0ZM1025.3,362.8 1031.6,363.6 1030.3,366.5 1025.9,364.4ZM1040.9,366.5 1044.8,362.8 1048.5,359.6 1054.9,358.8 1052.0,360.8 1046.5,363.2 1042.7,366.9ZM1026.0,335.5 1028.6,328.2 1029.8,324.2 1030.5,326.2 1034.0,323.4 1041.1,323.8 1046.4,323.4 1048.8,318.6 1046.3,320.2 1041.0,321.4 1034.0,321.4 1030.8,323.4 1032.5,329.8 1035.0,329.0 1037.1,328.6 1042.5,328.6 1039.3,329.0 1035.6,333.0 1039.9,343.1 1037.1,344.3 1034.2,344.3 1034.1,335.9 1031.9,337.1 1031.2,347.5 1027.7,347.1 1028.3,339.1 1026.0,335.5ZM1056.9,316.1 1058.8,321.0 1061.2,319.0 1058.8,323.0 1060.6,326.2 1057.8,327.0 1056.7,323.0ZM1058.5,337.9 1063.9,336.3 1068.4,338.7 1063.8,339.1 1059.2,339.5ZM1051.4,337.9 1055.7,337.9 1054.9,340.3 1051.7,339.9ZM1069.4,329.0 1070.3,328.6 1073.1,326.6 1076.6,327.8 1080.4,328.6 1080.6,335.1 1083.3,338.3 1085.1,338.7 1088.1,334.3 1092.4,331.4 1096.6,332.6 1103.7,335.1 1110.0,337.9 1117.0,340.3 1121.3,346.7 1127.1,349.5 1128.3,352.0 1125.0,353.2 1126.5,357.2 1129.7,361.2 1133.4,363.6 1137.4,366.5 1134.4,367.7 1127.6,365.6 1122.7,360.4 1116.0,355.6 1111.3,361.2 1108.4,362.4 1103.2,361.6 1101.2,359.2 1096.3,358.4 1092.8,358.8 1094.1,355.2 1092.9,347.1 1086.7,343.9 1080.4,341.1 1078.7,339.9 1075.5,341.1 1073.8,336.7 1076.3,335.1 1072.1,333.0 1069.4,330.2ZM1130.1,347.1 1134.5,345.1 1137.9,347.1 1141.6,344.7 1144.6,341.9 1144.5,345.1 1139.5,350.0 1134.1,350.4 1130.0,348.3ZM1138.4,335.5 1143.6,337.9 1147.0,343.1 1145.9,343.9 1141.8,339.1 1138.4,336.7ZM1158.8,351.6 1162.1,354.4 1167.2,357.2 1172.1,362.4 1175.4,364.4 1176.7,368.1 1173.3,367.3 1168.4,363.6 1161.8,358.0 1158.7,353.2ZM887.0,285.6 890.8,290.8 894.6,296.8 893.6,299.6 890.1,301.3 887.9,298.4 887.0,292.8 887.0,285.6ZM778.6,373.3 782.2,387.4 779.4,393.4 777.9,395.4 772.0,413.5 768.2,425.2 761.4,427.6 757.4,425.6 755.7,413.5 757.5,405.5 760.1,401.5 759.0,395.4 761.0,390.2 768.1,388.2 773.7,381.3 776.2,378.9 778.6,373.3ZM1107.9,368.1 1109.7,381.3 1115.1,387.4 1115.8,393.4 1116.0,401.5 1117.5,402.7 1124.4,409.9 1127.6,415.5 1129.0,421.6 1133.6,427.6 1132.0,435.7 1131.2,440.1 1125.6,449.8 1118.2,457.4 1114.8,461.4 1107.7,468.7 1103.3,475.9 1096.0,477.1 1088.1,482.3 1084.7,479.9 1085.8,477.1 1082.8,479.1 1079.2,481.1 1073.7,479.5 1070.2,475.9 1070.4,473.5 1071.4,468.7 1070.2,465.5 1070.3,462.6 1066.3,466.7 1070.8,457.8 1062.0,465.0 1060.5,461.8 1058.8,455.8 1058.4,454.2 1050.1,451.8 1043.1,452.6 1032.1,455.0 1024.3,457.8 1016.0,461.4 1007.3,463.4 1001.1,465.9 992.5,463.4 993.3,459.8 997.6,453.8 998.3,443.7 997.6,440.9 996.1,431.6 999.2,425.6 997.9,425.2 1001.4,412.7 1002.7,415.5 1010.9,408.3 1018.5,406.7 1027.3,403.5 1032.5,397.4 1037.6,393.4 1041.8,389.4 1048.0,382.1 1053.4,381.3 1054.7,387.4 1060.0,385.0 1065.8,374.9 1070.5,370.5 1073.8,372.5 1082.5,373.3 1087.0,374.5 1085.3,379.3 1081.1,385.4 1087.2,390.6 1093.3,395.4 1097.9,395.4 1101.4,389.4 1103.5,377.3 1105.1,373.3 1107.9,368.1ZM1079.0,488.7 1083.9,490.3 1090.2,489.5 1086.7,494.7 1081.9,498.6 1076.1,500.2 1076.7,495.1 1079.0,488.7ZM1185.7,463.4 1189.1,467.1 1187.8,471.9 1190.2,473.9 1189.1,476.3 1195.7,476.3 1196.3,477.9 1191.6,482.3 1187.4,484.3 1186.0,485.9 1180.1,489.9 1175.7,492.3 1174.7,491.1 1179.2,486.7 1177.5,484.3 1177.9,482.7 1182.0,480.3 1185.3,475.9 1185.8,471.9 1185.0,466.7 1185.7,463.4ZM1170.8,487.9 1173.0,490.7 1171.9,493.1 1164.5,497.8 1162.4,501.0 1154.3,503.8 1148.0,509.3 1140.7,512.1 1137.3,510.5 1135.4,508.9 1139.5,505.8 1147.1,501.8 1156.4,497.8 1163.1,493.1 1167.7,489.5 1170.8,487.9ZM638.1,152.2 638.7,155.3 637.4,158.5 635.5,157.3 635.8,153.7ZM637.4,159.3 639.3,162.1 638.7,167.3 634.7,168.1 634.8,161.7ZM647.9,171.7 658.5,170.9 656.9,177.3 648.3,173.7ZM685.1,182.1 694.5,182.9 690.2,184.3 685.5,183.3ZM714.6,184.1 722.1,181.3 720.0,184.5 716.7,185.8ZM642.7,102.7 647.6,101.6 647.1,104.2 645.3,105.3 643.3,104.6ZM639.4,103.4 641.8,103.4 641.8,105.3 640.0,104.9ZM663.5,96.7 665.4,94.8 665.9,97.1 664.2,98.2ZM422.5,530.4 429.7,530.8 433.9,531.6 432.5,533.9 427.3,533.9ZM61.4,243.7 64.5,245.3 64.0,247.3 61.2,248.9 60.9,245.7ZM50.4,235.7 52.1,235.7 51.4,236.9 50.4,236.9ZM54.9,238.1 56.9,238.5 56.7,239.3 55.3,239.3ZM59.8,240.5 62.2,240.9 61.8,242.1 59.8,242.1ZM1176.8,406.3 1181.2,409.5 1185.2,414.3 1183.3,414.7 1177.7,409.5ZM1225.8,395.0 1230.0,394.6 1229.7,397.8 1225.5,397.8ZM1191.8,385.4 1192.9,386.6 1191.6,389.4 1189.9,387.4ZM250.0,650.0 250.0,641.0 277.5,641.2 315.0,642.2 336.6,641.6 319.7,639.8 305.6,637.5 300.0,634.7 298.1,629.1 282.2,627.2 268.1,624.8 254.0,623.0 254.0,622.0 268.1,618.3 279.4,616.4 288.8,614.1 305.6,613.6 324.4,613.1 343.1,612.7 352.5,614.1 360.0,614.0 371.3,610.3 390.0,609.4 400.0,609.3 416.0,609.8 427.0,607.7 437.7,606.6 448.4,606.6 450.6,601.2 447.4,596.9 442.0,593.7 439.8,590.5 440.9,586.1 445.2,581.8 450.6,578.6 456.0,574.8 458.0,576.5 450.6,583.0 446.0,589.0 448.4,594.8 457.0,600.1 464.6,606.6 466.7,610.9 464.6,615.2 456.0,617.4 445.2,617.4 432.3,617.9 424.8,620.0 424.8,624.9 432.3,628.1 453.8,630.3 480.0,633.5 495.2,636.8 530.3,633.3 553.7,629.8 537.3,625.1 572.5,618.0 577.2,612.2 586.6,605.2 600.6,601.6 624.0,600.5 647.5,599.3 670.9,599.3 694.4,597.0 703.7,594.6 717.8,593.4 741.2,587.6 754.1,584.6 763.4,585.8 793.9,591.6 783.4,605.7 798.6,597.5 822.0,590.5 845.5,588.1 880.6,585.3 904.0,585.8 927.5,586.2 950.9,588.1 974.4,591.6 997.8,595.2 1021.2,599.8 1037.6,603.4 1040.0,604.0 1025.0,612.0 1010.0,625.0 995.0,640.0 985.0,650.0ZM499.8,627.0 505.0,624.0 515.0,624.0 520.9,627.5 515.0,631.0 503.0,631.0ZM361.9,40.8 370.0,39.5 378.8,39.4 384.4,46.4 378.8,53.4 367.5,56.3 360.5,53.4ZM373.1,53.4 384.4,50.6 390.0,56.3 387.2,64.7 378.8,67.5 370.3,64.7ZM343.0,36.5 352.0,35.5 360.0,37.0 356.0,40.0 346.0,40.0ZM385.0,30.0 395.0,28.5 405.0,30.0 400.0,33.5 388.0,33.5Z" fill="#c4c4c4"/>
<path d="M770.7,174.1 768.8,172.1 768.2,170.5 768.9,166.5 769.2,163.7 771.6,162.5 769.9,162.1 767.4,159.3 765.0,156.9 762.7,154.9 760.7,152.2 758.4,148.2 758.0,145.8 759.2,141.8 761.7,140.3 763.6,138.7 767.4,137.1 771.5,135.9 773.7,137.1 776.4,139.5 776.5,143.0 770.4,144.2 771.8,146.2 770.3,147.0 772.7,151.4 776.9,152.9 780.6,155.3 778.9,158.1 779.9,160.1 779.7,162.5 782.3,164.1 781.5,166.9 784.3,170.1 785.3,174.1 785.7,176.5 781.1,177.3 776.2,177.3 773.6,175.7 770.7,174.1ZM701.8,159.3 698.4,158.1 696.5,154.1 697.8,151.0 699.4,147.4 702.6,143.4 705.2,138.3 707.7,137.9 711.1,139.9 714.6,140.3 713.0,142.6 711.4,143.0 714.9,145.8 716.6,146.6 720.3,145.0 724.0,144.2 724.5,143.0 720.9,142.6 719.2,141.4 719.9,139.5 723.5,137.9 727.9,135.9 731.7,135.9 729.0,139.1 728.8,142.2 728.6,145.4 731.1,147.4 735.2,149.8 739.7,152.2 742.5,155.7 742.5,157.7 739.2,160.1 736.6,160.1 731.2,160.5 725.4,158.9 721.2,156.1 716.0,156.1 712.9,156.9 708.3,159.7 702.4,159.3ZM323.3,135.2 329.4,132.4 334.1,129.3 340.2,129.7 343.1,133.2 342.6,136.7 340.6,138.3 332.7,138.3 330.6,136.3 323.5,137.9 318.7,137.5ZM334.9,140.3 339.3,141.1 334.6,144.2 331.0,150.2 327.1,156.1 324.5,156.1 326.2,150.2 329.8,144.2 330.5,140.3ZM341.1,140.7 344.6,139.9 350.7,140.3 353.2,141.8 353.7,144.2 348.9,145.8 345.4,151.0 342.4,152.2 344.0,148.2 341.8,147.4 342.8,144.2 340.6,143.0ZM340.7,156.1 348.2,153.7 353.3,152.9 345.4,156.5 337.3,157.3ZM353.2,149.4 359.9,148.6 363.6,147.4 363.4,150.2 357.5,150.6 351.5,151.0ZM312.8,116.1 315.3,109.9 317.6,111.1 316.2,118.8 311.6,122.6ZM289.1,80.1 299.4,76.5 305.3,77.5 291.9,83.0 284.2,82.2ZM286.4,64.0 296.2,62.3 296.4,65.7 286.0,69.2 275.9,68.5ZM717.4,323.8 723.4,323.8 725.2,327.0 723.4,335.1 718.0,335.1 716.7,329.0ZM708.1,338.3 709.2,338.3 712.6,349.1 714.3,359.2 712.9,360.0 709.1,351.2 707.7,343.1ZM725.5,363.2 727.0,363.2 729.2,373.3 729.0,382.5 727.2,382.5 725.3,373.3ZM926.7,116.9 930.6,113.0 932.8,109.2 932.3,102.3 934.3,103.1 935.8,109.2 932.5,113.8 928.7,117.6 925.7,118.8ZM842.3,140.3 848.0,138.3 857.0,137.1 857.7,139.1 848.9,141.1 843.9,142.2ZM696.1,83.0 700.0,80.8 704.6,83.0 703.7,85.9 699.5,86.6ZM707.6,76.5 711.1,76.5 713.5,81.2 710.0,81.9 708.9,79.4ZM792.8,138.3 799.1,138.3 803.8,144.2 797.9,146.2 794.1,143.4Z" fill="#fff"/>
<path d="M226.6,128.5 313.8,128.5 314.6,126.9 315.6,127.3 319.8,130.1 328.1,132.0 329.4,132.4M342.2,138.3 344.4,140.3 346.6,143.0M354.0,151.4 353.6,152.2M363.6,147.4 369.6,144.2 380.7,144.2 383.9,142.6 388.2,137.5 391.8,134.8 394.8,135.2 395.8,135.9 393.6,141.4 394.7,143.4M253.0,52.6 213.2,85.5 217.6,86.6 218.8,89.6 226.8,87.3 227.6,92.2 226.0,99.7 228.3,101.9 226.1,104.2M210.7,194.2 219.2,193.4 229.6,199.0 239.1,199.0 239.8,197.0 245.5,197.0 249.1,204.3 253.9,208.3 256.7,205.1 260.1,205.1 264.3,214.3 270.6,220.8M280.6,266.6 280.9,263.8 283.2,260.2 287.8,260.2 288.7,253.4 293.2,253.4 296.4,250.5M293.2,253.4 291.9,261.0 295.3,261.8M291.9,261.0 290.8,267.0 287.7,269.9M290.8,267.0 293.4,269.1 295.7,271.1M312.4,264.6 302.2,269.1 297.3,272.7M309.2,281.1 302.2,280.3M312.7,286.8 311.3,292.8M330.9,290.0 328.8,296.0M351.1,278.3 349.2,280.3 347.2,283.1 345.1,288.0 348.5,292.8 349.7,296.8 356.4,297.2 359.1,300.5 365.5,300.0 364.2,306.9 365.9,310.9 364.0,313.7 365.7,317.0 367.1,320.2M324.9,319.4 329.8,323.4 335.4,324.6 337.5,325.4 345.5,334.3 355.9,335.9 356.3,341.9M356.3,341.9 358.2,329.4 357.5,322.6 356.1,320.6 358.9,321.0 365.7,317.0M319.7,338.7 323.4,344.7 326.2,343.1 331.4,336.3 337.5,325.4M356.3,341.9 346.2,346.3 345.7,351.2 342.7,355.2 347.3,362.4 355.4,363.2 355.5,369.3 359.0,368.9M359.0,368.9 362.7,375.3 362.2,383.4 360.8,387.4 363.0,391.4 361.7,395.4 358.9,399.0M361.7,395.4 363.5,399.5 365.4,403.5 368.0,410.7 370.1,416.8M370.1,416.8 375.2,412.7 381.4,415.1 387.1,413.5M387.1,413.5 388.1,407.5 389.8,403.9 398.8,402.7 402.1,404.7 403.6,398.2M403.6,398.2 400.8,390.6 393.8,390.6 391.9,380.5 386.8,378.5 377.8,375.3 374.2,369.3 373.5,364.4 368.0,366.5 359.0,368.9M370.1,416.8 369.5,425.6 370.0,433.7 368.0,445.7 370.3,457.8 371.5,469.9 373.1,481.9 375.3,493.9 379.3,503.8 381.6,511.7 382.5,522.7 388.4,529.3 394.2,533.1 402.1,534.3M387.9,414.3 394.2,420.8 406.3,426.8 404.5,434.9 412.2,435.7 417.2,428.0M417.2,428.0 420.7,430.4 420.9,434.1 414.7,438.9 409.8,446.5M409.8,446.5 409.6,455.4 410.2,461.4M409.8,446.5 417.2,449.4 426.8,460.6M402.1,404.7 404.2,413.9 411.6,414.7 414.4,421.6 417.5,421.6 417.2,428.0M392.4,290.8 387.0,301.3 389.4,304.1M389.4,304.1 381.8,308.9 377.6,308.5 374.6,316.1 367.1,320.2M389.4,304.1 393.2,308.9 392.3,318.2 398.7,319.0 404.1,317.4M401.9,300.9 398.9,308.9 404.1,317.4M413.2,302.1 411.5,315.3M404.1,317.4 411.5,315.3 419.0,315.3 421.6,308.1M600.5,183.7 600.7,188.2 602.2,193.8 593.9,197.8 593.5,200.6 587.2,204.7 576.0,209.5 575.9,213.5M575.9,213.5 560.8,213.5M575.8,215.1 575.6,220.4 564.2,220.4 563.8,230.4 560.3,232.4 560.0,239.3 546.1,239.3M575.8,215.1 588.9,224.4M562.0,265.4 564.8,263.0 585.6,262.6 586.0,259.4 584.3,240.5 584.7,224.8 588.9,224.4M588.9,224.4 609.4,240.5 616.3,245.3 619.9,247.9M619.9,247.9 625.3,246.7 646.6,230.4M646.6,230.4 640.0,226.4 638.3,218.4 639.7,210.3 638.3,203.5 640.7,197.4 645.1,191.8M634.7,176.5 634.0,183.3 631.6,188.6 636.8,195.8 638.3,203.5M690.8,197.8 692.1,236.5M692.1,236.5 692.3,244.5 688.9,246.5 659.1,232.4 653.9,234.5 646.6,230.4M692.1,236.5 714.0,236.5 733.4,236.5M659.1,232.4 660.6,242.9 659.3,257.0 652.7,268.7 652.7,271.5M619.9,247.9 619.7,259.0 617.2,263.0 609.4,263.4 605.6,265.0M605.6,265.0 606.2,268.7 608.3,271.5 612.5,274.3M612.5,274.3 617.4,277.9M617.4,277.9 619.2,270.7 628.7,272.3 636.5,273.5 648.1,272.3 652.7,271.5M688.9,246.5 688.8,262.2 684.0,268.3 682.3,273.1 685.5,279.1 684.1,281.5M654.4,272.3 655.9,274.7 657.3,276.7 658.0,284.4 653.8,286.8 659.5,294.8M659.5,294.8 670.1,289.2 678.9,286.8 685.5,279.1M689.5,290.0 700.1,286.4 710.7,285.2 715.9,278.7 721.9,281.9 724.8,286.8M733.2,267.5 733.0,272.7 729.9,274.7 726.5,282.7 724.8,286.8M733.2,267.5 735.6,256.6 740.0,252.6M733.2,267.5 738.1,265.0 742.0,266.2 745.5,267.0 751.3,271.1 754.2,274.7M752.2,277.9 756.1,280.7 757.1,278.7M756.1,280.7 760.2,288.8 774.1,292.8 764.1,304.9 757.0,308.1 753.1,309.3M753.1,309.3 744.6,310.9 739.3,310.5 732.2,307.3 731.8,306.5M731.8,306.5 726.5,302.9 721.4,292.8 724.8,286.8M753.1,309.3 750.0,313.7 750.0,328.6 752.1,331.8M743.5,343.9 738.2,337.9 724.8,329.0M724.8,329.0 724.8,324.6 728.7,319.0 726.5,306.5 731.8,306.5M726.5,306.5 723.3,309.7 715.5,309.7 713.8,310.9M713.8,310.9 710.6,321.0 709.6,330.6 712.8,329.0 717.4,329.0M709.6,330.6 707.4,336.3 708.5,338.3M712.9,360.0 715.0,359.6 721.0,362.8M721.3,363.2 726.4,371.3M726.8,371.3 737.0,372.1 747.4,367.3M670.5,307.7 673.7,304.5 684.0,308.9 691.4,304.9 701.7,304.5M701.7,304.5 706.7,306.9 713.8,310.9M701.7,304.5 696.7,298.8 689.5,290.0 684.1,281.5M655.9,300.0 657.7,307.7 662.0,316.1M662.0,316.1 670.5,310.9 670.5,307.7M670.5,310.9 668.0,321.0 664.8,329.0 662.0,333.9 659.5,341.1 647.8,348.3M643.9,340.7 645.3,335.1 648.9,334.7 654.9,334.3 656.0,327.0 654.2,319.8 651.7,316.1M651.7,316.1 662.0,316.1M639.3,315.7 644.6,316.1 651.7,316.1M639.3,321.0 644.6,321.0 644.6,316.1M647.8,348.3 650.6,348.7 662.3,348.7 666.9,357.6 673.3,357.2 681.8,354.4 682.4,363.6 689.4,369.3 689.4,370.1M689.4,370.1 694.0,370.1 700.6,373.3 703.4,375.3 706.9,378.9 709.7,378.5 709.1,373.3 704.9,372.5 706.1,359.2 712.9,358.0M689.4,370.1 689.3,377.3 682.3,377.3 682.1,390.2 686.9,395.8M646.3,394.6 652.3,393.4 669.8,395.0 678.5,397.4 686.9,395.8M674.6,424.4 674.7,413.5 678.2,413.5 678.5,398.6 686.5,397.4 693.5,396.6M662.1,440.1 670.8,439.7 674.2,439.3 674.6,424.4M674.6,424.4 677.1,432.9 683.4,429.6 688.3,427.6 694.5,426.4 698.9,420.0 707.4,413.9M693.5,396.6 695.9,399.5 699.3,405.5 702.6,411.5 707.4,413.9M693.5,396.6 699.5,395.4 704.9,391.4 711.6,387.8M711.6,387.8 720.3,392.2 720.0,401.1 718.3,409.5 713.9,415.1M707.4,413.9 713.9,415.1M713.9,415.1 715.7,423.6 715.8,429.6 718.7,433.3M711.6,387.8 720.5,383.4 721.6,381.3 719.9,379.3 721.1,375.3 722.6,368.5 721.3,363.2M721.6,381.3 726.2,383.4 727.6,392.6 728.6,393.4 730.5,389.4 730.7,384.6 726.8,371.3M698.1,441.7 703.3,440.1 706.2,443.7 701.2,448.1 698.0,444.1 698.1,441.7M547.0,260.2 554.1,258.2 562.0,265.4M562.0,265.4 564.6,275.1M556.5,273.9 564.6,275.1 573.0,275.1 576.4,283.5M546.0,270.3 550.2,270.3 556.2,270.7 552.0,271.5 546.0,271.9M545.9,275.1 551.2,273.9 556.5,273.9M551.7,281.1 554.6,278.3 556.5,273.9M557.6,288.8 562.3,285.2 566.8,287.6 568.2,290.8 564.2,297.2M568.2,290.8 571.3,295.2 574.5,294.4 575.2,294.4M578.0,307.3 574.5,298.8 575.2,294.4 576.4,283.5M576.4,283.5 581.7,283.5 585.3,282.7 585.6,280.7 589.6,272.7 597.8,266.2 605.6,265.0M585.3,282.7 590.5,285.6 594.8,280.7M594.8,280.7 604.7,280.7 608.2,280.7 612.5,278.3M594.8,280.7 595.8,292.8 593.6,304.5M604.7,280.7 606.4,292.8 608.8,300.5M607.9,280.7 610.3,288.8 610.2,300.0M614.1,299.2 614.2,288.8 617.4,277.9M634.7,306.9 638.2,298.8 646.4,296.8 650.6,288.8 655.9,274.7 654.4,272.3M578.8,156.5 581.1,155.7 586.6,156.5 585.0,160.1 584.7,164.1 583.3,166.1 584.1,168.5 582.3,175.3M602.1,150.6 607.8,153.3 612.6,154.1 618.0,154.5M617.1,120.3 622.1,124.6 627.0,126.5 628.9,126.5 634.4,128.5 632.5,134.0 630.0,134.4 627.4,139.1 629.9,140.3 630.5,144.2 629.1,147.8 632.0,149.0M619.9,119.2 623.2,118.8 627.2,119.9 627.8,121.5M627.8,121.5 628.9,123.4 627.0,126.5M631.6,112.2 630.9,116.1 627.5,117.6 627.8,121.5M635.8,105.7 639.7,106.1M652.6,109.5 653.9,114.6 654.3,118.0 655.3,120.7M646.5,123.4 647.7,123.0 655.3,120.7M646.5,123.4 647.7,126.5 651.8,129.3M651.8,129.3 649.4,131.6 649.1,134.0 643.1,134.8 638.7,134.4M638.7,134.4 635.6,133.2 632.5,134.0M629.9,140.3 633.0,140.7 636.8,141.1 640.0,138.7 641.6,136.7 638.7,134.4M641.6,136.7 646.9,135.9 651.7,138.3M651.7,138.3 658.9,137.5M651.7,138.3 651.4,141.8M651.8,129.3 655.5,128.5 661.5,130.1M661.5,130.1 662.2,132.4 660.4,134.4 658.9,137.5M655.3,120.7 660.0,123.4 664.6,124.6 669.4,126.9 678.7,128.1M661.5,130.1 666.3,126.5M662.2,132.4 667.2,133.2 672.7,130.4 677.7,130.8M677.7,130.8 678.7,128.1M678.7,128.1 683.0,122.6 681.4,118.8 680.8,114.9 681.7,111.1 680.3,109.2 678.1,107.6 668.6,107.6M677.7,130.8 680.3,132.4 676.2,137.9 672.5,139.9 667.8,140.7 662.1,140.7 658.9,137.5M680.3,132.4 686.6,133.6 691.7,131.6 697.3,137.9 697.7,142.2 702.6,143.4M691.7,131.6 696.0,130.8 700.0,132.8 703.0,138.3M680.6,147.4 688.1,149.4 694.4,147.8 699.6,149.0M676.2,137.9 672.5,139.9 676.2,143.4 680.6,147.4M680.6,147.4 679.9,152.2 682.2,158.9 687.0,158.1 692.3,158.9 693.7,156.5 698.2,156.1M692.3,158.9 693.1,160.5M673.4,165.7 675.8,160.9 681.9,159.7 682.2,158.9M668.5,140.7 669.9,144.2M658.1,143.4 669.9,144.6 670.8,150.2 667.4,154.1M669.9,144.6 670.6,152.2 673.9,154.1 680.1,154.9M670.4,156.1 673.9,155.3 674.5,160.1 675.8,160.9M658.9,137.5 658.1,143.4 656.5,142.2 651.4,142.2M711.1,115.7 716.3,119.9 727.3,125.0 732.7,126.1 732.7,132.4 728.8,135.9M681.4,118.8 688.6,117.2 702.5,119.6 706.1,116.5 711.1,115.7M711.1,115.7 704.9,109.9 701.3,103.1 693.4,101.2M680.4,109.5 687.1,108.4 688.9,103.1 693.4,101.2M672.3,101.2 681.0,100.4 688.9,103.1M681.3,94.5 686.3,94.8 690.5,95.9M690.5,95.9 691.9,98.2 693.4,101.2M690.5,95.9 690.3,92.2 691.3,88.8M673.1,104.2 678.0,105.7 678.1,107.6M690.2,84.8 694.5,81.2 699.2,76.1 694.6,72.8 692.9,68.9 693.1,63.3 689.9,59.9 688.1,56.8 688.2,54.7M678.0,65.7 676.6,63.3 675.8,58.5 668.4,54.7 667.3,54.3M667.3,54.3 671.1,55.7 676.3,56.1 680.8,54.7 683.4,51.2 687.4,52.3 688.2,54.7M688.2,54.7 688.7,52.6 693.6,52.6M644.0,90.3 647.1,84.8 646.4,81.2 646.1,76.5 650.6,70.3 652.0,65.1 655.7,59.9 660.8,56.8 667.3,54.3M761.3,138.3 754.5,130.4 757.8,128.5 755.1,122.6 764.6,117.6 779.5,122.2 786.8,120.7 797.4,121.5 794.2,114.9 791.8,109.2 803.5,106.9 813.3,104.9 822.0,108.4 830.0,109.9 838.4,108.4 842.6,111.5 854.4,121.5 864.7,120.7 871.8,126.5 879.6,128.1M879.6,128.1 881.0,127.7M881.0,127.7 885.7,123.0 891.1,121.5 898.4,122.6 909.3,125.3 907.0,116.9 920.7,119.6 935.1,123.4 944.9,127.3 955.3,126.5 961.5,123.8 969.2,125.3M969.2,125.3 973.2,126.5 975.7,123.4 972.5,114.9 976.2,111.5 985.7,112.2 1002.5,125.3 1014.2,128.9 1022.8,133.2 1029.1,130.8 1028.8,135.2 1031.1,143.4 1025.2,144.6 1030.3,152.2 1029.3,154.5M881.0,127.7 885.8,132.0 891.6,133.2 896.1,140.3 896.1,144.2 905.8,144.6 918.5,153.3 933.6,154.1 948.1,157.7 953.3,154.9 963.4,152.9 966.3,149.4 964.0,146.6 969.7,145.0 975.7,141.4 978.6,137.9 985.3,137.5 978.9,132.8 976.1,134.0 969.7,133.2 969.2,125.3M879.6,128.1 877.6,135.9 869.2,140.3 869.1,144.2 862.8,144.6 866.9,155.3M866.9,155.3 852.5,152.5 846.0,152.5 837.0,154.9 834.7,158.1 828.7,160.1 822.9,156.5 820.2,152.2 813.2,149.8 806.8,150.2 794.1,142.2 786.3,144.2 789.4,158.9M789.4,158.9 782.1,154.9 777.7,156.9M789.4,158.9 794.1,158.1 802.0,156.9 807.4,159.3 817.3,167.3 827.1,174.5M785.4,174.9 790.2,172.1 795.0,171.3 803.8,174.1 809.5,177.7 810.9,181.7 817.0,182.1 821.3,178.9 827.1,174.5M827.1,174.5 832.4,176.1 838.5,174.1 843.1,172.5 855.1,175.3M855.1,175.3 853.8,170.1 849.1,165.7 838.4,166.1 834.0,164.1 836.8,160.1 837.0,154.9M849.1,165.7 855.5,162.5 862.3,158.1 866.9,155.3M855.1,175.3 844.4,178.1 844.5,186.2 841.6,188.6 840.6,192.2 841.0,198.2 835.1,199.4 832.3,204.7 824.3,206.3 813.5,204.7M810.9,181.7 810.3,190.2 812.5,198.2 815.9,200.2 813.5,204.7M813.5,204.7 819.7,211.1 822.7,215.5 821.6,218.4 818.1,223.6M866.4,182.1 860.9,184.1 855.9,186.2 855.8,192.2 858.6,196.2 859.1,200.6 855.0,206.3 849.0,212.3 845.8,213.5 844.7,218.4 847.6,221.6 844.1,227.2 841.5,229.6M855.1,175.3 857.3,176.5 866.4,182.1 872.3,182.9 876.6,190.2 873.7,194.2 873.0,199.0 878.8,202.3 883.3,202.7M879.7,209.1 883.3,202.7 892.9,208.3 900.4,212.3 908.0,212.7 908.7,218.4 897.7,216.7 890.5,214.7 881.2,209.9 879.7,209.1M910.5,215.1 912.3,211.5 921.1,213.1 928.6,207.5 934.4,207.5 938.9,211.1M913.6,238.1 911.9,230.4 912.6,224.8 909.2,221.2 914.9,220.4 924.6,224.4 924.5,228.4 922.3,230.4 926.9,236.5 926.4,240.5M926.9,236.5 928.6,228.4 932.1,223.6 933.0,217.5 938.9,211.1M938.9,211.1 944.0,214.3 945.7,221.2 943.5,228.4 948.1,231.6 950.8,236.1 953.3,238.5M953.3,238.5 953.9,242.9 947.3,248.5 945.5,250.5 951.1,259.4 949.9,264.2 954.1,271.9 956.0,277.1 953.1,284.8M953.3,238.5 958.2,234.5 960.9,233.6 965.9,234.5 971.0,231.6 975.4,233.2 975.9,236.5 980.7,238.5M960.9,233.6 965.5,241.3 969.8,246.5 973.9,251.4 978.1,256.6 982.3,264.6 982.5,266.6M953.9,242.9 958.2,246.5 959.3,254.6 964.3,253.0 969.2,255.4 972.6,260.6 976.0,264.6M976.0,264.6 982.5,266.6 983.7,275.5 979.6,280.7 975.4,281.1 973.8,283.1M976.0,264.6 970.6,267.0 965.4,268.7 966.3,274.7 967.7,278.3M959.1,298.8 962.4,300.9 966.2,300.0M1014.1,164.5 1016.8,158.9 1022.7,156.5 1025.8,154.5 1029.3,154.5M1025.7,172.9 1029.9,169.7M727.1,177.7 728.6,176.9 732.9,176.9 739.5,176.5 747.4,175.7M747.4,175.7 753.7,175.3M753.7,175.3 754.5,169.3 752.9,166.5 754.0,165.3M754.0,165.3 749.8,163.3 748.9,159.7 745.5,158.1 742.2,158.1M736.0,150.6 742.8,151.4 749.6,153.3 757.8,156.5M757.8,156.5 762.9,159.3 765.0,156.9M754.0,165.3 756.7,168.5 760.0,168.5 765.2,170.5 768.2,170.5M748.9,159.7 753.8,159.3 757.8,156.5M747.4,175.7 744.6,186.6 736.9,190.6M736.9,190.6 727.9,195.0 726.4,193.4M726.4,193.4 726.9,191.0 729.3,187.4 727.1,185.8M736.9,190.6 738.7,195.4M738.7,195.4 731.5,198.2 735.3,202.3 731.4,204.7 725.3,206.7M726.4,193.4 726.4,198.2 725.3,206.3M722.1,199.0 725.0,206.3M753.7,175.3 757.7,180.5 760.5,184.1 759.2,188.2 767.4,195.0 768.7,200.2 771.2,204.3M738.7,195.4 748.6,199.8 758.5,207.5 764.7,207.9M764.7,207.9 769.5,204.3M764.7,207.9 771.4,210.3M755.0,259.0 759.0,255.0 767.8,255.4 771.4,256.6 776.3,250.1 786.7,248.5 796.9,244.5 798.8,236.5 796.8,233.6 787.7,232.8 783.9,227.6M786.7,248.5 787.9,258.2 791.1,258.2M798.8,236.5 799.2,228.0 800.3,224.8M1104.7,335.5 1103.2,361.6M1046.2,362.4 1046.8,364.8M1019.4,307.7 1014.1,308.1 1011.5,319.0 1003.7,319.0 998.4,321.0 993.7,317.4" fill="none" stroke="#e2e2e2" stroke-width="0.8" stroke-linejoin="round"/>
</g>
<path d="M980.1,0.4 992.9,4.3 1005.6,8.2 1021.3,14.2 1037.0,20.1 1053.6,27.5 1070.2,35.0 1084.7,43.1 1099.2,51.2 1112.3,59.9 1125.4,68.5 1137.9,77.5 1150.3,86.6 1161.9,95.9 1173.6,105.3 1184.1,114.9 1194.6,124.6 1203.6,134.4 1212.7,144.2 1220.8,154.1 1228.9,164.1 1235.6,174.1 1242.4,184.1 1247.9,194.2 1253.4,204.3 1257.6,214.3 1261.7,224.4 1264.7,234.5 1267.6,244.5 1270.1,254.6 1272.6,264.6 1274.3,274.7 1276.1,284.8 1277.1,294.8 1278.1,304.9 1278.6,314.9 1279.0,325.0 1278.6,335.1 1278.1,345.1 1277.1,355.2 1276.1,365.2 1274.3,375.3 1272.6,385.4 1270.1,395.4 1267.6,405.5 1264.7,415.5 1261.7,425.6 1257.6,435.7 1253.4,445.7 1247.9,455.8 1242.4,465.9 1235.6,475.9 1228.9,485.9 1220.8,495.9 1212.7,505.8 1203.6,515.6 1194.6,525.4 1184.1,535.1 1173.6,544.7 1161.9,554.1 1150.3,563.4 1137.9,572.5 1125.4,581.5 1112.3,590.1 1099.2,598.8 1084.7,606.9 1070.2,615.0 1053.6,622.5 1037.0,629.9 1021.3,635.8 1005.6,641.8 992.9,645.7 980.1,649.5 299.9,649.5 287.1,645.7 274.4,641.8 258.7,635.8 243.0,629.9 226.4,622.5 209.8,615.0 195.3,606.9 180.8,598.8 167.7,590.1 154.6,581.5 142.1,572.5 129.7,563.4 118.1,554.1 106.4,544.7 95.9,535.1 85.4,525.4 76.4,515.6 67.3,505.8 59.2,495.9 51.1,485.9 44.4,475.9 37.6,465.9 32.1,455.8 26.6,445.7 22.4,435.7 18.3,425.6 15.3,415.5 12.4,405.5 9.9,395.4 7.4,385.4 5.7,375.3 3.9,365.2 2.9,355.2 1.9,345.1 1.4,335.1 1.0,325.0 1.4,314.9 1.9,304.9 2.9,294.8 3.9,284.8 5.7,274.7 7.4,264.6 9.9,254.6 12.4,244.5 15.3,234.5 18.3,224.4 22.4,214.3 26.6,204.3 32.1,194.2 37.6,184.1 44.4,174.1 51.1,164.1 59.2,154.1 67.3,144.2 76.4,134.4 85.4,124.6 95.9,114.9 106.4,105.3 118.1,95.9 129.7,86.6 142.1,77.5 154.6,68.5 167.7,59.9 180.8,51.2 195.3,43.1 209.8,35.0 226.4,27.5 243.0,20.1 258.7,14.2 274.4,8.2 287.1,4.3 299.9,0.4Z" fill="none" stroke="#a0a0a0" stroke-width="0.8"/>
<g transform="translate(126.4,105.3)"><circle r="14.8" fill="#fff" fill-opacity="0.45"/><circle r="3.80" fill="none" stroke="#0606a8" stroke-width="2.90" stroke-opacity="1.0"/><circle r="8.65" fill="none" stroke="#1010c0" stroke-width="2.15" stroke-opacity="0.85"/><circle r="13.50" fill="none" stroke="#1010c0" stroke-width="2.15" stroke-opacity="0.7"/><circle r="2.30" fill="#fff"/></g>
<g transform="translate(217.1,195.6)"><circle r="14.8" fill="#fff" fill-opacity="0.45"/><circle r="3.80" fill="none" stroke="#b00000" stroke-width="2.90" stroke-opacity="1.0"/><circle r="8.65" fill="none" stroke="#cc1010" stroke-width="2.15" stroke-opacity="0.85"/><circle r="13.50" fill="none" stroke="#cc1010" stroke-width="2.15" stroke-opacity="0.7"/><circle r="2.30" fill="#fff"/></g>
<g transform="translate(226.1,223.3)"><circle r="19.6" fill="#fff" fill-opacity="0.45"/><circle r="3.80" fill="none" stroke="#b02000" stroke-width="2.90" stroke-opacity="1.0"/><circle r="8.65" fill="none" stroke="#d83a10" stroke-width="2.15" stroke-opacity="0.85"/><circle r="13.50" fill="none" stroke="#d83a10" stroke-width="2.15" stroke-opacity="0.7"/><circle r="18.35" fill="none" stroke="#d83a10" stroke-width="2.15" stroke-opacity="0.6"/><circle r="2.30" fill="#fff"/></g>
<g transform="translate(243.4,252.6)"><circle r="14.8" fill="#fff" fill-opacity="0.45"/><circle r="3.80" fill="none" stroke="#b00000" stroke-width="2.90" stroke-opacity="1.0"/><circle r="8.65" fill="none" stroke="#cc1010" stroke-width="2.15" stroke-opacity="0.85"/><circle r="13.50" fill="none" stroke="#cc1010" stroke-width="2.15" stroke-opacity="0.7"/><circle r="2.30" fill="#fff"/></g>
<g transform="translate(275.5,252.0)"><circle r="24.5" fill="#fff" fill-opacity="0.45"/><circle r="3.80" fill="none" stroke="#0606a8" stroke-width="2.90" stroke-opacity="1.0"/><circle r="8.65" fill="none" stroke="#1010c0" stroke-width="2.15" stroke-opacity="0.85"/><circle r="13.50" fill="none" stroke="#1010c0" stroke-width="2.15" stroke-opacity="0.7"/><circle r="18.35" fill="none" stroke="#1010c0" stroke-width="2.15" stroke-opacity="0.6"/><circle r="23.20" fill="none" stroke="#1010c0" stroke-width="2.15" stroke-opacity="0.52"/><circle r="2.30" fill="#fff"/></g>
<g transform="translate(278.2,266.0)"><circle r="14.8" fill="#fff" fill-opacity="0.45"/><circle r="3.80" fill="none" stroke="#524600" stroke-width="2.90" stroke-opacity="1.0"/><circle r="8.65" fill="none" stroke="#9c8e18" stroke-width="2.15" stroke-opacity="0.85"/><circle r="13.50" fill="none" stroke="#9c8e18" stroke-width="2.15" stroke-opacity="0.7"/><circle r="2.30" fill="#fff"/></g>
<g transform="translate(359.5,241.3)"><circle r="14.8" fill="#fff" fill-opacity="0.45"/><circle r="3.80" fill="none" stroke="#b00000" stroke-width="2.90" stroke-opacity="1.0"/><circle r="8.65" fill="none" stroke="#cc1010" stroke-width="2.15" stroke-opacity="0.85"/><circle r="13.50" fill="none" stroke="#cc1010" stroke-width="2.15" stroke-opacity="0.7"/><circle r="2.30" fill="#fff"/></g>
<g transform="translate(395.3,258.0)"><circle r="14.8" fill="#fff" fill-opacity="0.45"/><circle r="3.80" fill="none" stroke="#524600" stroke-width="2.90" stroke-opacity="1.0"/><circle r="8.65" fill="none" stroke="#9c8e18" stroke-width="2.15" stroke-opacity="0.85"/><circle r="13.50" fill="none" stroke="#9c8e18" stroke-width="2.15" stroke-opacity="0.7"/><circle r="2.30" fill="#fff"/></g>
<g transform="translate(345.0,296.9)"><circle r="19.6" fill="#fff" fill-opacity="0.45"/><circle r="3.80" fill="none" stroke="#0606a8" stroke-width="2.90" stroke-opacity="1.0"/><circle r="8.65" fill="none" stroke="#1010c0" stroke-width="2.15" stroke-opacity="0.85"/><circle r="13.50" fill="none" stroke="#1010c0" stroke-width="2.15" stroke-opacity="0.7"/><circle r="18.35" fill="none" stroke="#1010c0" stroke-width="2.15" stroke-opacity="0.6"/><circle r="2.30" fill="#fff"/></g>
<g transform="translate(354.9,392.0)"><circle r="19.6" fill="#fff" fill-opacity="0.45"/><circle r="3.80" fill="none" stroke="#0606a8" stroke-width="2.90" stroke-opacity="1.0"/><circle r="8.65" fill="none" stroke="#1010c0" stroke-width="2.15" stroke-opacity="0.85"/><circle r="13.50" fill="none" stroke="#1010c0" stroke-width="2.15" stroke-opacity="0.7"/><circle r="18.35" fill="none" stroke="#1010c0" stroke-width="2.15" stroke-opacity="0.6"/><circle r="2.30" fill="#fff"/></g>
<g transform="translate(368.4,442.3)"><circle r="19.6" fill="#fff" fill-opacity="0.45"/><circle r="3.80" fill="none" stroke="#0606a8" stroke-width="2.90" stroke-opacity="1.0"/><circle r="8.65" fill="none" stroke="#1010c0" stroke-width="2.15" stroke-opacity="0.85"/><circle r="13.50" fill="none" stroke="#1010c0" stroke-width="2.15" stroke-opacity="0.7"/><circle r="18.35" fill="none" stroke="#1010c0" stroke-width="2.15" stroke-opacity="0.6"/><circle r="2.30" fill="#fff"/></g>
<g transform="translate(361.2,473.0)"><circle r="19.6" fill="#fff" fill-opacity="0.45"/><circle r="3.80" fill="none" stroke="#a04000" stroke-width="2.90" stroke-opacity="1.0"/><circle r="8.65" fill="none" stroke="#d06018" stroke-width="2.15" stroke-opacity="0.85"/><circle r="13.50" fill="none" stroke="#d06018" stroke-width="2.15" stroke-opacity="0.7"/><circle r="18.35" fill="none" stroke="#d06018" stroke-width="2.15" stroke-opacity="0.6"/><circle r="2.30" fill="#fff"/></g>
<g transform="translate(659.3,118.3)"><circle r="14.8" fill="#fff" fill-opacity="0.45"/><circle r="3.80" fill="none" stroke="#b00000" stroke-width="2.90" stroke-opacity="1.0"/><circle r="8.65" fill="none" stroke="#cc1010" stroke-width="2.15" stroke-opacity="0.85"/><circle r="13.50" fill="none" stroke="#cc1010" stroke-width="2.15" stroke-opacity="0.7"/><circle r="2.30" fill="#fff"/></g>
<g transform="translate(750.6,158.9)"><circle r="19.6" fill="#fff" fill-opacity="0.45"/><circle r="3.80" fill="none" stroke="#b00000" stroke-width="2.90" stroke-opacity="1.0"/><circle r="8.65" fill="none" stroke="#cc1010" stroke-width="2.15" stroke-opacity="0.85"/><circle r="13.50" fill="none" stroke="#cc1010" stroke-width="2.15" stroke-opacity="0.7"/><circle r="18.35" fill="none" stroke="#cc1010" stroke-width="2.15" stroke-opacity="0.6"/><circle r="2.30" fill="#fff"/></g>
<g transform="translate(831.0,177.5)"><circle r="29.4" fill="#fff" fill-opacity="0.3"/><circle r="3.80" fill="none" stroke="#524600" stroke-width="2.90" stroke-opacity="1.0"/><circle r="8.65" fill="none" stroke="#9c8e18" stroke-width="2.15" stroke-opacity="0.85"/><circle r="13.50" fill="none" stroke="#9c8e18" stroke-width="2.15" stroke-opacity="0.7"/><circle r="18.35" fill="none" stroke="#9c8e18" stroke-width="2.15" stroke-opacity="0.6"/><circle r="23.20" fill="none" stroke="#9c8e18" stroke-width="2.15" stroke-opacity="0.52"/><circle r="28.05" fill="none" stroke="#9c8e18" stroke-width="2.15" stroke-opacity="0.46"/><circle r="2.30" fill="#fff"/></g>
<g transform="translate(844.3,178.3)"><circle r="14.8" fill="#fff" fill-opacity="0.1"/><circle r="3.80" fill="none" stroke="#b00000" stroke-width="2.90" stroke-opacity="1.0"/><circle r="8.65" fill="none" stroke="#cc1010" stroke-width="2.15" stroke-opacity="0.85"/><circle r="13.50" fill="none" stroke="#cc1010" stroke-width="2.15" stroke-opacity="0.7"/><circle r="2.30" fill="#fff"/></g>
<g transform="translate(932.4,230.2)"><circle r="14.8" fill="#fff" fill-opacity="0.45"/><circle r="3.80" fill="none" stroke="#0606a8" stroke-width="2.90" stroke-opacity="1.0"/><circle r="8.65" fill="none" stroke="#1010c0" stroke-width="2.15" stroke-opacity="0.85"/><circle r="13.50" fill="none" stroke="#1010c0" stroke-width="2.15" stroke-opacity="0.7"/><circle r="2.30" fill="#fff"/></g>
<g transform="translate(1055.2,175.0)"><circle r="19.6" fill="#fff" fill-opacity="0.45"/><circle r="3.80" fill="none" stroke="#201060" stroke-width="2.90" stroke-opacity="1.0"/><circle r="8.65" fill="none" stroke="#3a2a8a" stroke-width="2.15" stroke-opacity="0.85"/><circle r="13.50" fill="none" stroke="#3a2a8a" stroke-width="2.15" stroke-opacity="0.7"/><circle r="18.35" fill="none" stroke="#3a2a8a" stroke-width="2.15" stroke-opacity="0.6"/><circle r="2.30" fill="#fff"/></g>
<g transform="translate(1078.3,162.8)"><circle r="19.6" fill="#fff" fill-opacity="0.45"/><circle r="3.80" fill="none" stroke="#b00000" stroke-width="2.90" stroke-opacity="1.0"/><circle r="8.65" fill="none" stroke="#cc1010" stroke-width="2.15" stroke-opacity="0.85"/><circle r="13.50" fill="none" stroke="#cc1010" stroke-width="2.15" stroke-opacity="0.7"/><circle r="18.35" fill="none" stroke="#cc1010" stroke-width="2.15" stroke-opacity="0.6"/><circle r="2.30" fill="#fff"/></g>
<g transform="translate(1073.4,179.0)"><circle r="14.8" fill="#fff" fill-opacity="0.45"/><circle r="3.80" fill="none" stroke="#524600" stroke-width="2.90" stroke-opacity="1.0"/><circle r="8.65" fill="none" stroke="#9c8e18" stroke-width="2.15" stroke-opacity="0.85"/><circle r="13.50" fill="none" stroke="#9c8e18" stroke-width="2.15" stroke-opacity="0.7"/><circle r="2.30" fill="#fff"/></g>
<g transform="translate(1092.8,114.1)"><circle r="14.8" fill="#fff" fill-opacity="0.45"/><circle r="3.80" fill="none" stroke="#524600" stroke-width="2.90" stroke-opacity="1.0"/><circle r="8.65" fill="none" stroke="#9c8e18" stroke-width="2.15" stroke-opacity="0.85"/><circle r="13.50" fill="none" stroke="#9c8e18" stroke-width="2.15" stroke-opacity="0.7"/><circle r="2.30" fill="#fff"/></g>
<g transform="translate(1093.9,128.3)"><circle r="19.6" fill="#fff" fill-opacity="0.45"/><circle r="3.80" fill="none" stroke="#524600" stroke-width="2.90" stroke-opacity="1.0"/><circle r="8.65" fill="none" stroke="#9c8e18" stroke-width="2.15" stroke-opacity="0.85"/><circle r="13.50" fill="none" stroke="#9c8e18" stroke-width="2.15" stroke-opacity="0.7"/><circle r="18.35" fill="none" stroke="#9c8e18" stroke-width="2.15" stroke-opacity="0.6"/><circle r="2.30" fill="#fff"/></g>
<g transform="translate(1155.2,119.5)"><circle r="19.6" fill="#fff" fill-opacity="0.45"/><circle r="3.80" fill="none" stroke="#524600" stroke-width="2.90" stroke-opacity="1.0"/><circle r="8.65" fill="none" stroke="#9c8e18" stroke-width="2.15" stroke-opacity="0.85"/><circle r="13.50" fill="none" stroke="#9c8e18" stroke-width="2.15" stroke-opacity="0.7"/><circle r="18.35" fill="none" stroke="#9c8e18" stroke-width="2.15" stroke-opacity="0.6"/><circle r="2.30" fill="#fff"/></g>
<g transform="translate(1030.0,248.4)"><circle r="19.6" fill="#fff" fill-opacity="0.45"/><circle r="3.80" fill="none" stroke="#b00000" stroke-width="2.90" stroke-opacity="1.0"/><circle r="8.65" fill="none" stroke="#cc1010" stroke-width="2.15" stroke-opacity="0.85"/><circle r="13.50" fill="none" stroke="#cc1010" stroke-width="2.15" stroke-opacity="0.7"/><circle r="18.35" fill="none" stroke="#cc1010" stroke-width="2.15" stroke-opacity="0.6"/><circle r="2.30" fill="#fff"/></g>
<g transform="translate(1040.3,286.5)"><circle r="24.5" fill="#fff" fill-opacity="0.45"/><circle r="3.80" fill="none" stroke="#0606a8" stroke-width="2.90" stroke-opacity="1.0"/><circle r="8.65" fill="none" stroke="#1010c0" stroke-width="2.15" stroke-opacity="0.85"/><circle r="13.50" fill="none" stroke="#1010c0" stroke-width="2.15" stroke-opacity="0.7"/><circle r="18.35" fill="none" stroke="#1010c0" stroke-width="2.15" stroke-opacity="0.6"/><circle r="23.20" fill="none" stroke="#1010c0" stroke-width="2.15" stroke-opacity="0.52"/><circle r="2.30" fill="#fff"/></g>
<g transform="translate(931.2,297.9)"><circle r="19.6" fill="#fff" fill-opacity="0.45"/><circle r="3.80" fill="none" stroke="#b00000" stroke-width="2.90" stroke-opacity="1.0"/><circle r="8.65" fill="none" stroke="#cc1010" stroke-width="2.15" stroke-opacity="0.85"/><circle r="13.50" fill="none" stroke="#cc1010" stroke-width="2.15" stroke-opacity="0.7"/><circle r="18.35" fill="none" stroke="#cc1010" stroke-width="2.15" stroke-opacity="0.6"/><circle r="2.30" fill="#fff"/></g>
<g transform="translate(1042.1,318.3)"><circle r="19.6" fill="#fff" fill-opacity="0.45"/><circle r="3.80" fill="none" stroke="#b00000" stroke-width="2.90" stroke-opacity="1.0"/><circle r="8.65" fill="none" stroke="#cc1010" stroke-width="2.15" stroke-opacity="0.85"/><circle r="13.50" fill="none" stroke="#cc1010" stroke-width="2.15" stroke-opacity="0.7"/><circle r="18.35" fill="none" stroke="#cc1010" stroke-width="2.15" stroke-opacity="0.6"/><circle r="2.30" fill="#fff"/></g>
<g transform="translate(1099.5,331.6)"><circle r="19.6" fill="#fff" fill-opacity="0.45"/><circle r="3.80" fill="none" stroke="#b02000" stroke-width="2.90" stroke-opacity="1.0"/><circle r="8.65" fill="none" stroke="#d83a10" stroke-width="2.15" stroke-opacity="0.85"/><circle r="13.50" fill="none" stroke="#d83a10" stroke-width="2.15" stroke-opacity="0.7"/><circle r="18.35" fill="none" stroke="#d83a10" stroke-width="2.15" stroke-opacity="0.6"/><circle r="2.30" fill="#fff"/></g>
<g transform="translate(1059.7,355.1)"><circle r="24.5" fill="#fff" fill-opacity="0.45"/><circle r="3.80" fill="none" stroke="#0606a8" stroke-width="2.90" stroke-opacity="1.0"/><circle r="8.65" fill="none" stroke="#1010c0" stroke-width="2.15" stroke-opacity="0.85"/><circle r="13.50" fill="none" stroke="#1010c0" stroke-width="2.15" stroke-opacity="0.7"/><circle r="18.35" fill="none" stroke="#1010c0" stroke-width="2.15" stroke-opacity="0.6"/><circle r="23.20" fill="none" stroke="#1010c0" stroke-width="2.15" stroke-opacity="0.52"/><circle r="2.30" fill="#fff"/></g>
<g transform="translate(1072.6,349.2)"><circle r="19.6" fill="#fff" fill-opacity="0.45"/><circle r="3.80" fill="none" stroke="#007000" stroke-width="2.90" stroke-opacity="1.0"/><circle r="8.65" fill="none" stroke="#18a018" stroke-width="2.15" stroke-opacity="0.85"/><circle r="13.50" fill="none" stroke="#18a018" stroke-width="2.15" stroke-opacity="0.7"/><circle r="18.35" fill="none" stroke="#18a018" stroke-width="2.15" stroke-opacity="0.6"/><circle r="2.30" fill="#fff"/></g>
<g transform="translate(1035.1,373.1)"><circle r="14.8" fill="#fff" fill-opacity="0.45"/><circle r="3.80" fill="none" stroke="#007000" stroke-width="2.90" stroke-opacity="1.0"/><circle r="8.65" fill="none" stroke="#18a018" stroke-width="2.15" stroke-opacity="0.85"/><circle r="13.50" fill="none" stroke="#18a018" stroke-width="2.15" stroke-opacity="0.7"/><circle r="2.30" fill="#fff"/></g>
<g transform="translate(997.3,356.4)"><circle r="14.8" fill="#fff" fill-opacity="0.45"/><circle r="3.80" fill="none" stroke="#0606a8" stroke-width="2.90" stroke-opacity="1.0"/><circle r="8.65" fill="none" stroke="#1010c0" stroke-width="2.15" stroke-opacity="0.85"/><circle r="13.50" fill="none" stroke="#1010c0" stroke-width="2.15" stroke-opacity="0.7"/><circle r="2.30" fill="#fff"/></g>
<g transform="translate(1198.1,404.2)"><circle r="24.5" fill="#fff" fill-opacity="0.45"/><circle r="3.80" fill="none" stroke="#201060" stroke-width="2.90" stroke-opacity="1.0"/><circle r="8.65" fill="none" stroke="#3a2a8a" stroke-width="2.15" stroke-opacity="0.85"/><circle r="13.50" fill="none" stroke="#3a2a8a" stroke-width="2.15" stroke-opacity="0.7"/><circle r="18.35" fill="none" stroke="#3a2a8a" stroke-width="2.15" stroke-opacity="0.6"/><circle r="23.20" fill="none" stroke="#3a2a8a" stroke-width="2.15" stroke-opacity="0.52"/><circle r="2.30" fill="#fff"/></g>
<g transform="translate(1243.4,420.9)"><circle r="19.6" fill="#fff" fill-opacity="0.45"/><circle r="3.80" fill="none" stroke="#007000" stroke-width="2.90" stroke-opacity="1.0"/><circle r="8.65" fill="none" stroke="#18a018" stroke-width="2.15" stroke-opacity="0.85"/><circle r="13.50" fill="none" stroke="#18a018" stroke-width="2.15" stroke-opacity="0.7"/><circle r="18.35" fill="none" stroke="#18a018" stroke-width="2.15" stroke-opacity="0.6"/><circle r="2.30" fill="#fff"/></g>
<g transform="translate(1227.0,437.0)"><circle r="19.6" fill="#fff" fill-opacity="0.45"/><circle r="3.80" fill="none" stroke="#201060" stroke-width="2.90" stroke-opacity="1.0"/><circle r="8.65" fill="none" stroke="#3a2a8a" stroke-width="2.15" stroke-opacity="0.85"/><circle r="13.50" fill="none" stroke="#3a2a8a" stroke-width="2.15" stroke-opacity="0.7"/><circle r="18.35" fill="none" stroke="#3a2a8a" stroke-width="2.15" stroke-opacity="0.6"/><circle r="2.30" fill="#fff"/></g>
<g transform="translate(1210.6,462.0)"><circle r="14.8" fill="#fff" fill-opacity="0.45"/><circle r="3.80" fill="none" stroke="#0606a8" stroke-width="2.90" stroke-opacity="1.0"/><circle r="8.65" fill="none" stroke="#1010c0" stroke-width="2.15" stroke-opacity="0.85"/><circle r="13.50" fill="none" stroke="#1010c0" stroke-width="2.15" stroke-opacity="0.7"/><circle r="2.30" fill="#fff"/></g>
<rect x="7.6" y="6.1" width="233.5" height="24.7" fill="#fff" fill-opacity="0.45"/>
<rect x="7.6" y="40.6" width="333.5" height="19.1" fill="#fff" fill-opacity="0.45"/>
<rect x="1118.2" y="12.3" width="148.4" height="24.3" fill="#fff" fill-opacity="0.45"/>
<rect x="139.0" y="104.3" width="148.0" height="17.4" fill="#fff" fill-opacity="0.2"/>
<rect x="229.8" y="186.1" width="148.0" height="17.4" fill="#fff" fill-opacity="0.2"/>
<rect x="243.0" y="215.5" width="148.0" height="17.4" fill="#fff" fill-opacity="0.2"/>
<rect x="76.1" y="244.9" width="148.0" height="17.4" fill="#fff" fill-opacity="0.2"/>
<rect x="111.1" y="264.7" width="148.0" height="17.4" fill="#fff" fill-opacity="0.2"/>
<rect x="296.0" y="259.8" width="148.0" height="17.4" fill="#fff" fill-opacity="0.2"/>
<rect x="372.0" y="222.0" width="148.0" height="17.4" fill="#fff" fill-opacity="0.2"/>
<rect x="407.8" y="256.7" width="148.0" height="17.4" fill="#fff" fill-opacity="0.2"/>
<rect x="362.5" y="299.6" width="148.0" height="17.4" fill="#fff" fill-opacity="0.2"/>
<rect x="371.6" y="395.3" width="148.0" height="17.4" fill="#fff" fill-opacity="0.2"/>
<rect x="385.1" y="445.2" width="148.0" height="17.4" fill="#fff" fill-opacity="0.2"/>
<rect x="377.9" y="476.3" width="148.0" height="17.4" fill="#fff" fill-opacity="0.2"/>
<rect x="671.8" y="117.1" width="148.0" height="17.4" fill="#fff" fill-opacity="0.2"/>
<rect x="586.5" y="161.8" width="148.0" height="17.4" fill="#fff" fill-opacity="0.2"/>
<rect x="676.9" y="176.0" width="148.0" height="17.4" fill="#fff" fill-opacity="0.2"/>
<rect x="855.9" y="187.3" width="148.0" height="17.4" fill="#fff" fill-opacity="0.2"/>
<rect x="892.8" y="165.8" width="148.0" height="17.4" fill="#fff" fill-opacity="0.2"/>
<rect x="926.2" y="111.5" width="148.0" height="17.4" fill="#fff" fill-opacity="0.2"/>
<rect x="1110.8" y="130.6" width="148.0" height="17.4" fill="#fff" fill-opacity="0.2"/>
<rect x="1095.2" y="165.4" width="148.0" height="17.4" fill="#fff" fill-opacity="0.2"/>
<rect x="944.5" y="210.1" width="148.0" height="17.4" fill="#fff" fill-opacity="0.2"/>
<rect x="1047.1" y="249.3" width="148.0" height="17.4" fill="#fff" fill-opacity="0.2"/>
<rect x="1060.8" y="293.0" width="148.0" height="17.4" fill="#fff" fill-opacity="0.2"/>
<rect x="767.8" y="299.0" width="148.0" height="17.4" fill="#fff" fill-opacity="0.2"/>
<rect x="878.9" y="320.7" width="148.0" height="17.4" fill="#fff" fill-opacity="0.2"/>
<rect x="1115.8" y="335.0" width="148.0" height="17.4" fill="#fff" fill-opacity="0.2"/>
<rect x="908.9" y="351.2" width="148.0" height="17.4" fill="#fff" fill-opacity="0.2"/>
<rect x="1078.8" y="361.9" width="148.0" height="17.4" fill="#fff" fill-opacity="0.2"/>
<rect x="1078.6" y="411.2" width="148.0" height="17.4" fill="#fff" fill-opacity="0.2"/>
<g font-weight="bold" fill="#000" stroke="#000" stroke-width="0.5" style="white-space:pre">
<text x="9.6" y="28.8" font-size="28.5" textLength="229.5" lengthAdjust="spacingAndGlyphs">Earthquakes M3+</text>
<text x="9.6" y="57.7" font-size="20.4" textLength="329.5" lengthAdjust="spacingAndGlyphs">updated: &#160;3 Nov 2025 00:20 (UTC)</text>
<text x="1120.2" y="34.6" font-size="28" textLength="144.4" lengthAdjust="spacingAndGlyphs">2 Nov 2025</text>
<text x="141.0" y="119.7" font-size="17.5" textLength="144" lengthAdjust="spacingAndGlyphs">M3.9  2Nov 17:11</text>
<text x="231.8" y="201.5" font-size="17.5" textLength="144" lengthAdjust="spacingAndGlyphs">M3.4  2Nov 08:34</text>
<text x="245.0" y="230.9" font-size="17.5" textLength="144" lengthAdjust="spacingAndGlyphs">M4.1  2Nov 00:41</text>
<text x="78.1" y="260.3" font-size="17.5" textLength="144" lengthAdjust="spacingAndGlyphs">M3.8  2Nov 10:09</text>
<text x="113.1" y="280.1" font-size="17.5" textLength="144" lengthAdjust="spacingAndGlyphs">M3.9  2Nov 04:33</text>
<text x="298.0" y="275.2" font-size="17.5" textLength="144" lengthAdjust="spacingAndGlyphs">M5.0  2Nov 23:19</text>
<text x="374.0" y="237.4" font-size="17.5" textLength="144" lengthAdjust="spacingAndGlyphs">M3.6  2Nov 12:51</text>
<text x="409.8" y="272.1" font-size="17.5" textLength="144" lengthAdjust="spacingAndGlyphs">M3.7  2Nov 11:24</text>
<text x="364.5" y="315.0" font-size="17.5" textLength="144" lengthAdjust="spacingAndGlyphs">M4.2  2Nov 10:53</text>
<text x="373.6" y="410.7" font-size="17.5" textLength="144" lengthAdjust="spacingAndGlyphs">M4.9  2Nov 12:47</text>
<text x="387.1" y="460.6" font-size="17.5" textLength="144" lengthAdjust="spacingAndGlyphs">M4.1  2Nov 01:02</text>
<text x="379.9" y="491.7" font-size="17.5" textLength="144" lengthAdjust="spacingAndGlyphs">M4.6  2Nov 18:51</text>
<text x="673.8" y="132.5" font-size="17.5" textLength="144" lengthAdjust="spacingAndGlyphs">M3.4  2Nov 13:18</text>
<text x="588.5" y="177.2" font-size="17.5" textLength="144" lengthAdjust="spacingAndGlyphs">M4.3  2Nov 19:49</text>
<text x="678.9" y="191.4" font-size="17.5" textLength="144" lengthAdjust="spacingAndGlyphs">M3.9  2Nov 15:10</text>
<text x="857.9" y="202.7" font-size="17.5" textLength="144" lengthAdjust="spacingAndGlyphs">M6.3  2Nov 20:29</text>
<text x="894.8" y="181.2" font-size="17.5" textLength="144" lengthAdjust="spacingAndGlyphs">M4.2  2Nov 08:43</text>
<text x="928.2" y="126.9" font-size="17.5" textLength="144" lengthAdjust="spacingAndGlyphs">M3.8  2Nov 02:44</text>
<text x="1112.8" y="146.0" font-size="17.5" textLength="144" lengthAdjust="spacingAndGlyphs">M4.5  2Nov 21:16</text>
<text x="1097.2" y="180.8" font-size="17.5" textLength="144" lengthAdjust="spacingAndGlyphs">M4.9  2Nov 09:57</text>
<text x="946.5" y="225.5" font-size="17.5" textLength="144" lengthAdjust="spacingAndGlyphs">M3.9  2Nov 05:35</text>
<text x="1049.1" y="264.75" font-size="17.5" textLength="144" lengthAdjust="spacingAndGlyphs">M4.4  2Nov 08:32</text>
<text x="1062.8" y="308.4" font-size="17.5" textLength="144" lengthAdjust="spacingAndGlyphs">M5.5  2Nov 19:06</text>
<text x="769.75" y="314.4" font-size="17.5" textLength="144" lengthAdjust="spacingAndGlyphs">M4.0  2Nov 18:00</text>
<text x="880.9" y="336.1" font-size="17.5" textLength="144" lengthAdjust="spacingAndGlyphs">M4.4  2Nov 11:18</text>
<text x="1117.8" y="350.4" font-size="17.5" textLength="144" lengthAdjust="spacingAndGlyphs">M4.9  2Nov 11:15</text>
<text x="910.9" y="366.6" font-size="17.5" textLength="144" lengthAdjust="spacingAndGlyphs">M4.2  2Nov 04:30</text>
<text x="1080.8" y="377.3" font-size="17.5" textLength="144" lengthAdjust="spacingAndGlyphs">M5.4  2Nov 03:09</text>
<text x="1080.6" y="426.6" font-size="17.5" textLength="144" lengthAdjust="spacingAndGlyphs">M5.0  2Nov 22:10</text>
</g>
<g transform="translate(700.5,167.7)"><circle r="19.6" fill="#fff" fill-opacity="0.12"/><circle r="3.80" fill="none" stroke="#b02000" stroke-width="2.90" stroke-opacity="1.0"/><circle r="8.65" fill="none" stroke="#d83a10" stroke-width="2.15" stroke-opacity="0.85"/><circle r="13.50" fill="none" stroke="#d83a10" stroke-width="2.15" stroke-opacity="0.7"/><circle r="18.35" fill="none" stroke="#d83a10" stroke-width="2.15" stroke-opacity="0.6"/><circle r="2.30" fill="#fff"/></g>
<g transform="translate(692.6,179.7)"><circle r="14.8" fill="#fff" fill-opacity="0.12"/><circle r="3.80" fill="none" stroke="#b02000" stroke-width="2.90" stroke-opacity="1.0"/><circle r="8.65" fill="none" stroke="#d83a10" stroke-width="2.15" stroke-opacity="0.85"/><circle r="13.50" fill="none" stroke="#d83a10" stroke-width="2.15" stroke-opacity="0.7"/><circle r="2.30" fill="#fff"/></g>
<text x="9.8" y="588.3" font-size="11" fill="#000" textLength="237" lengthAdjust="spacingAndGlyphs">Map base: Robinson projection of the world</text>
<text x="9.8" y="618.7" font-size="11" fill="#8a8a8a" textLength="200.5" lengthAdjust="spacingAndGlyphs" style="white-space:pre">generated in 0.16ms &#160;3 Nov 2025 00:20</text>
<g font-weight="bold">
<text x="896.9" y="619.9" font-size="22.9" fill="#333" stroke="#333" stroke-width="0.9" textLength="110" lengthAdjust="spacingAndGlyphs">VOLCANO</text>
<text x="931.9" y="635.5" font-size="18.4" fill="#c8202a" textLength="96.8" lengthAdjust="spacingAndGlyphs">DISCOVERY</text>
<path d="M901.9,623 L912.5,623 L926.9,635.3 L881.9,635.3 Z" fill="#333"/>
</g>
<g transform="translate(1175.6,620.5)"><circle r="8.2" fill="#fff"/><circle r="8.3" fill="none" stroke="#cc1010" stroke-width="2.2"/><circle r="3.6" fill="none" stroke="#b00000" stroke-width="2.2"/></g>
<g transform="translate(1190.2,620.5)"><circle r="8.2" fill="#fff"/><circle r="8.3" fill="none" stroke="#d83a10" stroke-width="2.2"/><circle r="3.6" fill="none" stroke="#b02000" stroke-width="2.2"/></g>
<g transform="translate(1205.3,620.5)"><circle r="8.2" fill="#fff"/><circle r="8.3" fill="none" stroke="#9c8e18" stroke-width="2.2"/><circle r="3.6" fill="none" stroke="#524600" stroke-width="2.2"/></g>
<g transform="translate(1220.3,620.5)"><circle r="8.2" fill="#fff"/><circle r="8.3" fill="none" stroke="#18a018" stroke-width="2.2"/><circle r="3.6" fill="none" stroke="#007000" stroke-width="2.2"/></g>
<g transform="translate(1235.3,620.5)"><circle r="8.2" fill="#fff"/><circle r="8.3" fill="none" stroke="#1010c0" stroke-width="2.2"/><circle r="3.6" fill="none" stroke="#0606a8" stroke-width="2.2"/></g>
<g transform="translate(1250.4,620.5)"><circle r="8.2" fill="#fff"/><circle r="8.3" fill="none" stroke="#3a2a8a" stroke-width="2.2"/><circle r="3.6" fill="none" stroke="#201060" stroke-width="2.2"/></g>
<text x="1159.7" y="642.4" font-size="11" fill="#000" textLength="43" lengthAdjust="spacingAndGlyphs">shallow</text>
<text x="1229.7" y="640.7" font-size="11" fill="#000" textLength="24" lengthAdjust="spacingAndGlyphs">deep</text>
</svg>
</body></html>
